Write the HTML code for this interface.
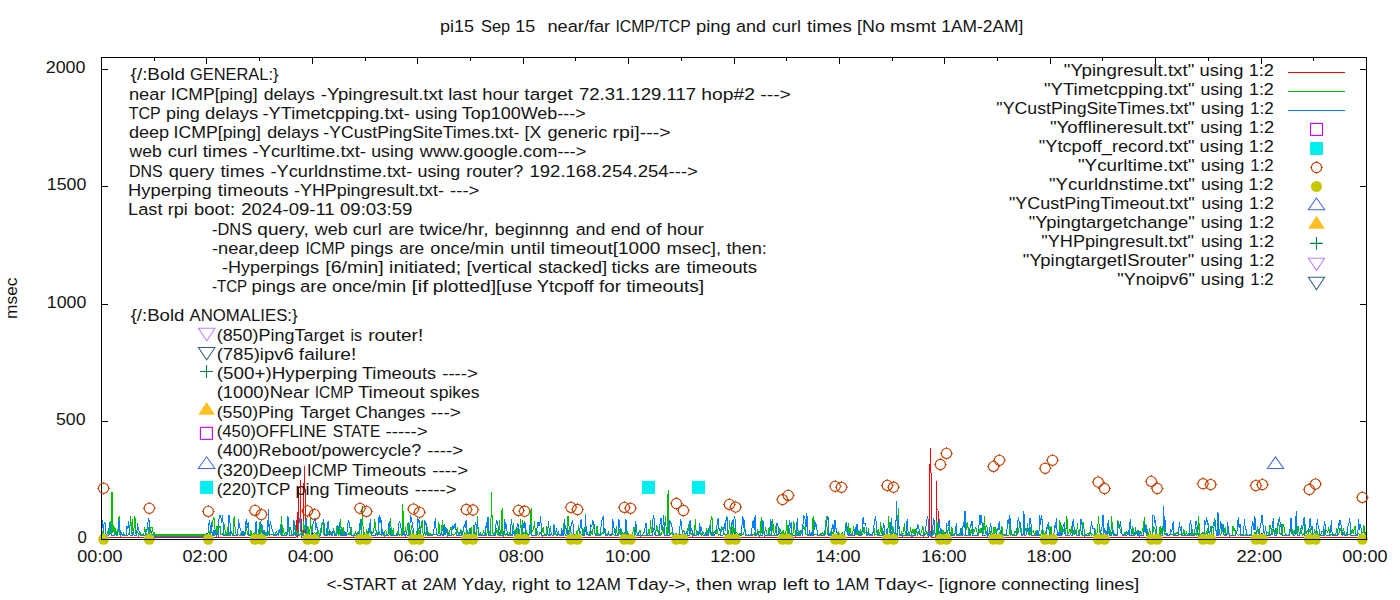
<!DOCTYPE html>
<html><head><meta charset="utf-8"><style>
html,body{margin:0;padding:0;background:#fff;width:1400px;height:600px;overflow:hidden}
svg{display:block}
text{font-family:"Liberation Sans",sans-serif;font-size:16.7px;fill:#141414}
</style></head><body>
<svg width="1400" height="600" viewBox="0 0 1400 600">
<rect width="1400" height="600" fill="#fff"/>
<g><path d="M101.0 539.5h7M1367.0 539.5h-7" stroke="#000" stroke-width="1"/>
<path d="M101.0 421.5h7M1367.0 421.5h-7" stroke="#000" stroke-width="1"/>
<path d="M101.0 304.5h7M1367.0 304.5h-7" stroke="#000" stroke-width="1"/>
<path d="M101.0 186.5h7M1367.0 186.5h-7" stroke="#000" stroke-width="1"/>
<path d="M101.0 69.5h7M1367.0 69.5h-7" stroke="#000" stroke-width="1"/>
<path d="M101.5 540.0v-7.0M101.5 57.0v7.0" stroke="#000" stroke-width="1"/>
<path d="M154.5 540.0v-4.0M154.5 57.0v4.0" stroke="#000" stroke-width="1"/>
<path d="M206.5 540.0v-7.0M206.5 57.0v7.0" stroke="#000" stroke-width="1"/>
<path d="M259.5 540.0v-4.0M259.5 57.0v4.0" stroke="#000" stroke-width="1"/>
<path d="M312.5 540.0v-7.0M312.5 57.0v7.0" stroke="#000" stroke-width="1"/>
<path d="M365.5 540.0v-4.0M365.5 57.0v4.0" stroke="#000" stroke-width="1"/>
<path d="M417.5 540.0v-7.0M417.5 57.0v7.0" stroke="#000" stroke-width="1"/>
<path d="M470.5 540.0v-4.0M470.5 57.0v4.0" stroke="#000" stroke-width="1"/>
<path d="M523.5 540.0v-7.0M523.5 57.0v7.0" stroke="#000" stroke-width="1"/>
<path d="M575.5 540.0v-4.0M575.5 57.0v4.0" stroke="#000" stroke-width="1"/>
<path d="M628.5 540.0v-7.0M628.5 57.0v7.0" stroke="#000" stroke-width="1"/>
<path d="M681.5 540.0v-4.0M681.5 57.0v4.0" stroke="#000" stroke-width="1"/>
<path d="M734.5 540.0v-7.0M734.5 57.0v7.0" stroke="#000" stroke-width="1"/>
<path d="M786.5 540.0v-4.0M786.5 57.0v4.0" stroke="#000" stroke-width="1"/>
<path d="M839.5 540.0v-7.0M839.5 57.0v7.0" stroke="#000" stroke-width="1"/>
<path d="M892.5 540.0v-4.0M892.5 57.0v4.0" stroke="#000" stroke-width="1"/>
<path d="M944.5 540.0v-7.0M944.5 57.0v7.0" stroke="#000" stroke-width="1"/>
<path d="M997.5 540.0v-4.0M997.5 57.0v4.0" stroke="#000" stroke-width="1"/>
<path d="M1050.5 540.0v-7.0M1050.5 57.0v7.0" stroke="#000" stroke-width="1"/>
<path d="M1102.5 540.0v-4.0M1102.5 57.0v4.0" stroke="#000" stroke-width="1"/>
<path d="M1155.5 540.0v-7.0M1155.5 57.0v7.0" stroke="#000" stroke-width="1"/>
<path d="M1208.5 540.0v-4.0M1208.5 57.0v4.0" stroke="#000" stroke-width="1"/>
<path d="M1261.5 540.0v-7.0M1261.5 57.0v7.0" stroke="#000" stroke-width="1"/>
<path d="M1313.5 540.0v-4.0M1313.5 57.0v4.0" stroke="#000" stroke-width="1"/>
<path d="M1366.5 540.0v-7.0M1366.5 57.0v7.0" stroke="#000" stroke-width="1"/></g>
<g><polyline points="101.5,537.5 296.0,537.5 297.5,512.0 298.0,537.5 298.7,487.0 300.0,487.0 300.6,480.0 301.2,537.5 303.0,537.5 303.6,500.0 304.4,466.0 305.3,500.0 306.0,537.5 929.0,537.5 929.3,492.5 930.4,448.0 931.5,492.5 932.0,537.5 936.0,537.5 936.4,481.0 937.0,509.0 938.0,509.0 938.4,537.5 1366.5,537.5" fill="none" stroke="#FF0000" stroke-width="1.00" shape-rendering="crispEdges"/>
<polyline points="101.5,534.3 102.4,534.6 103.3,529.6 104.1,535.0 105.0,535.2 105.9,535.2 106.8,534.2 107.6,532.0 108.5,534.6 109.4,534.8 110.3,521.5 111.2,534.8 112.0,491.8 112.9,532.6 113.8,525.2 114.7,535.0 115.6,527.9 116.4,534.6 117.3,535.3 118.2,527.7 119.1,516.0 119.9,535.2 120.8,530.5 121.7,535.0 122.6,535.2 123.5,533.4 124.3,535.0 125.2,535.2 126.1,535.3 127.0,535.0 127.9,535.2 128.7,533.3 129.6,532.2 130.5,516.0 131.4,533.5 132.2,519.2 133.1,532.7 134.0,528.4 134.9,516.0 135.8,533.2 136.6,535.2 137.5,531.1 138.4,535.2 139.3,532.2 140.2,532.8 141.0,534.8 141.9,535.2 142.8,534.9 143.7,535.0 144.5,528.5 145.4,530.2 146.3,535.0 147.2,534.2 148.1,534.9 148.9,526.6 149.8,534.8 150.7,527.6 151.6,527.1 152.5,527.8 153.3,534.9 154.2,532.0 154.2,535.0 206.9,535.0 206.9,535.1 207.8,534.9 208.7,534.9 209.6,532.5 210.4,535.3 211.3,527.6 212.2,526.8 213.1,519.2 213.9,517.3 214.8,526.7 215.7,535.2 216.6,526.5 217.5,535.3 218.3,520.2 219.2,527.9 220.1,527.0 221.0,534.7 221.9,535.0 222.7,534.9 223.6,528.8 224.5,523.6 225.4,534.8 226.2,533.0 227.1,534.8 228.0,527.1 228.9,532.2 229.8,535.1 230.6,534.5 231.5,532.8 232.4,533.1 233.3,535.1 234.1,516.0 235.0,526.7 235.9,534.0 236.8,535.0 237.7,534.7 238.5,534.4 239.4,535.1 240.3,535.1 241.2,532.4 242.1,534.8 242.9,534.8 243.8,535.2 244.7,535.1 245.6,534.5 246.4,526.2 247.3,533.2 248.2,535.2 249.1,535.1 250.0,534.6 250.8,529.8 251.7,534.9 252.6,534.9 253.5,535.2 254.4,532.1 255.2,532.0 256.1,535.2 257.0,535.3 257.9,534.8 258.7,532.5 259.6,521.8 260.5,534.5 261.4,532.2 262.3,524.6 263.1,530.4 264.0,535.3 264.9,532.1 265.8,535.1 266.7,535.2 267.5,526.2 268.4,534.7 269.3,535.0 270.2,534.2 271.0,534.7 271.9,534.3 272.8,534.7 273.7,535.0 274.6,534.4 275.4,535.2 276.3,530.8 277.2,533.8 278.1,533.0 279.0,531.8 279.8,528.9 280.7,535.0 281.6,516.0 282.5,534.9 283.3,528.3 284.2,534.0 285.1,534.1 286.0,531.8 286.9,535.1 287.7,534.0 288.6,527.0 289.5,530.5 290.4,528.3 291.2,530.4 292.1,535.1 293.0,534.9 293.9,534.4 294.8,534.7 295.6,525.4 296.5,534.5 297.4,534.9 298.3,532.8 299.2,534.9 300.0,535.2 300.9,532.9 301.8,534.8 302.7,535.2 303.5,521.2 304.4,527.2 305.3,535.0 306.2,534.9 307.1,535.2 307.9,526.0 308.8,535.1 309.7,535.1 310.6,518.0 311.5,534.4 312.3,523.9 313.2,534.8 314.1,533.1 315.0,532.6 315.8,534.7 316.7,535.2 317.6,527.2 318.5,532.8 319.4,535.1 320.2,532.2 321.1,527.4 322.0,523.4 322.9,522.4 323.8,534.3 324.6,534.0 325.5,535.2 326.4,535.1 327.3,524.1 328.1,535.2 329.0,531.6 329.9,535.1 330.8,532.9 331.7,533.1 332.5,534.2 333.4,527.8 334.3,532.8 335.2,533.2 336.1,534.9 336.9,527.2 337.8,528.5 338.7,535.1 339.6,534.9 340.4,518.6 341.3,531.6 342.2,535.0 343.1,526.9 344.0,534.8 344.8,534.8 345.7,535.0 346.6,535.0 347.5,534.4 348.4,534.8 349.2,532.2 350.1,535.1 351.0,527.2 351.9,534.8 352.7,535.3 353.6,534.9 354.5,535.0 355.4,532.2 356.3,534.9 357.1,535.1 358.0,535.2 358.9,535.1 359.8,523.1 360.6,525.8 361.5,535.1 362.4,505.7 363.3,535.2 364.2,532.3 365.0,535.2 365.9,534.8 366.8,530.2 367.7,532.6 368.6,535.2 369.4,531.7 370.3,531.2 371.2,534.7 372.1,532.7 372.9,533.8 373.8,530.7 374.7,518.6 375.6,528.0 376.5,535.1 377.3,532.8 378.2,533.4 379.1,531.8 380.0,535.2 380.9,534.5 381.7,534.5 382.6,534.6 383.5,533.0 384.4,535.2 385.2,530.0 386.1,530.9 387.0,534.9 387.9,535.1 388.8,535.0 389.6,534.5 390.5,518.1 391.4,534.1 392.3,534.7 393.2,528.4 394.0,535.2 394.9,535.1 395.8,535.1 396.7,534.8 397.5,531.6 398.4,533.0 399.3,535.2 400.2,534.7 401.1,535.2 401.9,535.3 402.8,503.6 403.7,532.2 404.6,535.2 405.5,526.8 406.3,534.4 407.2,528.3 408.1,522.4 409.0,535.0 409.8,535.1 410.7,533.1 411.6,525.2 412.5,535.2 413.4,535.0 414.2,535.0 415.1,535.1 416.0,535.1 416.9,531.8 417.8,525.5 418.6,535.2 419.5,533.4 420.4,526.7 421.3,527.3 422.1,519.9 423.0,533.0 423.9,534.8 424.8,531.6 425.7,535.1 426.5,535.0 427.4,527.5 428.3,534.1 429.2,535.3 430.0,532.9 430.9,535.1 431.8,534.8 432.7,534.9 433.6,534.2 434.4,534.1 435.3,534.8 436.2,534.9 437.1,535.0 438.0,533.8 438.8,521.9 439.7,533.1 440.6,534.5 441.5,534.5 442.3,519.8 443.2,534.2 444.1,534.2 445.0,535.1 445.9,534.3 446.7,527.8 447.6,530.2 448.5,534.8 449.4,535.2 450.3,527.6 451.1,527.4 452.0,534.8 452.9,534.2 453.8,535.2 454.6,534.9 455.5,532.9 456.4,534.7 457.3,527.0 458.2,534.9 459.0,532.2 459.9,534.9 460.8,528.7 461.7,535.2 462.6,534.7 463.4,526.8 464.3,534.3 465.2,533.1 466.1,534.6 466.9,534.4 467.8,531.1 468.7,534.0 469.6,533.8 470.5,528.2 471.3,527.6 472.2,535.1 473.1,534.8 474.0,525.5 474.9,535.2 475.7,533.3 476.6,535.0 477.5,516.0 478.4,535.0 479.2,535.1 480.1,532.8 481.0,535.2 481.9,535.0 482.8,534.8 483.6,529.7 484.5,535.1 485.4,532.9 486.3,535.1 487.1,532.4 488.0,524.5 488.9,535.1 489.8,531.2 490.7,534.9 491.5,491.8 492.4,532.3 493.3,534.0 494.2,535.3 495.1,531.9 495.9,533.2 496.8,528.3 497.7,535.0 498.6,535.1 499.4,520.2 500.3,535.2 501.2,533.0 502.1,507.9 503.0,535.1 503.8,531.3 504.7,534.5 505.6,535.0 506.5,534.0 507.4,535.2 508.2,534.4 509.1,534.8 510.0,532.1 510.9,535.3 511.7,535.2 512.6,532.7 513.5,523.5 514.4,534.7 515.3,535.0 516.1,528.1 517.0,534.1 517.9,528.2 518.8,535.0 519.7,534.7 520.5,519.1 521.4,535.1 522.3,520.5 523.2,535.1 524.0,532.5 524.9,534.5 525.8,529.0 526.7,535.1 527.6,533.6 528.4,535.2 529.3,534.9 530.2,533.9 531.1,507.9 532.0,531.5 532.8,530.9 533.7,528.7 534.6,521.4 535.5,534.9 536.3,535.1 537.2,532.0 538.1,535.0 539.0,535.2 539.9,532.0 540.7,533.0 541.6,534.6 542.5,528.8 543.4,527.6 544.2,534.3 545.1,535.3 546.0,534.7 546.9,526.4 547.8,533.5 548.6,535.1 549.5,532.1 550.4,526.0 551.3,534.6 552.2,535.2 553.0,535.2 553.9,535.1 554.8,532.6 555.7,534.5 556.5,535.2 557.4,533.5 558.3,533.1 559.2,534.8 560.1,535.2 560.9,535.2 561.8,535.3 562.7,534.9 563.6,522.9 564.5,530.3 565.3,535.3 566.2,535.2 567.1,534.8 568.0,516.0 568.8,523.6 569.7,531.8 570.6,529.3 571.5,534.8 572.4,534.6 573.2,534.8 574.1,535.2 575.0,534.8 575.9,535.1 576.8,531.5 577.6,534.4 578.5,525.1 579.4,535.2 580.3,531.2 581.1,534.8 582.0,534.9 582.9,528.5 583.8,535.2 584.7,534.9 585.5,527.0 586.4,534.7 587.3,534.6 588.2,534.6 589.1,534.8 589.9,531.8 590.8,534.8 591.7,531.9 592.6,534.7 593.4,524.0 594.3,530.2 595.2,534.9 596.1,535.3 597.0,526.1 597.8,535.0 598.7,533.6 599.6,534.7 600.5,533.1 601.4,534.4 602.2,532.5 603.1,533.9 604.0,531.3 604.9,532.8 605.7,534.9 606.6,534.3 607.5,535.2 608.4,532.3 609.3,535.2 610.1,535.1 611.0,534.5 611.9,535.0 612.8,534.6 613.6,535.0 614.5,535.2 615.4,534.9 616.3,526.4 617.2,534.8 618.0,534.6 618.9,534.9 619.8,528.7 620.7,534.7 621.6,529.1 622.4,535.2 623.3,534.4 624.2,532.7 625.1,534.3 625.9,535.1 626.8,531.7 627.7,532.1 628.6,535.0 629.5,534.9 630.3,535.1 631.2,535.0 632.1,534.4 633.0,531.7 633.9,527.3 634.7,529.0 635.6,534.6 636.5,535.3 637.4,534.6 638.2,535.2 639.1,533.1 640.0,529.8 640.9,535.1 641.8,535.2 642.6,535.0 643.5,535.1 644.4,535.2 645.3,535.2 646.2,535.1 647.0,534.9 647.9,534.2 648.8,528.9 649.7,535.1 650.5,520.4 651.4,532.3 652.3,530.4 653.2,528.8 654.1,532.6 654.9,534.5 655.8,532.4 656.7,524.6 657.6,528.8 658.5,534.9 659.3,526.7 660.2,535.0 661.1,535.0 662.0,531.8 662.8,525.6 663.7,532.8 664.6,534.9 665.5,516.0 666.4,534.4 667.2,535.2 668.1,489.6 669.0,533.1 669.9,535.3 670.8,533.0 671.6,532.4 672.5,534.7 673.4,535.1 674.3,535.1 675.1,534.9 676.0,535.1 676.9,534.1 677.8,534.3 678.7,534.5 679.5,535.1 680.4,534.9 681.3,535.3 682.2,535.0 683.0,530.2 683.9,531.0 684.8,535.1 685.7,535.2 686.6,535.2 687.4,535.2 688.3,524.2 689.2,532.9 690.1,530.9 691.0,533.6 691.8,534.7 692.7,532.6 693.6,535.1 694.5,535.0 695.3,519.5 696.2,532.4 697.1,534.9 698.0,535.0 698.9,534.4 699.7,526.9 700.6,534.3 701.5,535.2 702.4,531.4 703.3,532.6 704.1,534.3 705.0,534.4 705.9,534.2 706.8,528.3 707.6,535.1 708.5,535.1 709.4,528.1 710.3,534.9 711.2,516.0 712.0,517.8 712.9,535.2 713.8,533.0 714.7,531.5 715.6,531.1 716.4,532.9 717.3,529.5 718.2,534.9 719.1,535.2 719.9,533.9 720.8,533.3 721.7,526.7 722.6,527.3 723.5,532.7 724.3,534.1 725.2,535.1 726.1,534.8 727.0,534.6 727.9,535.0 728.7,535.0 729.6,519.6 730.5,535.1 731.4,522.0 732.2,534.8 733.1,525.2 734.0,532.8 734.9,528.4 735.8,532.4 736.6,532.9 737.5,533.3 738.4,535.2 739.3,534.4 740.1,533.2 741.0,534.9 741.9,535.1 742.8,534.0 743.7,534.6 744.5,527.2 745.4,534.1 746.3,534.6 747.2,535.3 748.1,534.8 748.9,535.2 749.8,535.1 750.7,534.7 751.6,533.6 752.4,535.2 753.3,534.6 754.2,535.0 755.1,531.6 756.0,535.2 756.8,534.9 757.7,528.7 758.6,535.1 759.5,531.1 760.4,535.2 761.2,516.8 762.1,534.6 763.0,527.3 763.9,533.1 764.7,532.7 765.6,527.4 766.5,532.8 767.4,535.3 768.3,535.0 769.1,526.9 770.0,534.6 770.9,535.2 771.8,535.2 772.7,518.9 773.5,532.4 774.4,534.0 775.3,532.1 776.2,524.9 777.0,535.0 777.9,535.2 778.8,526.0 779.7,533.6 780.6,529.4 781.4,534.7 782.3,533.9 783.2,530.0 784.1,535.2 785.0,532.7 785.8,535.1 786.7,520.2 787.6,535.2 788.5,534.3 789.3,527.8 790.2,535.0 791.1,533.1 792.0,535.2 792.9,535.0 793.7,521.5 794.6,525.2 795.5,535.1 796.4,535.2 797.2,535.2 798.1,531.3 799.0,530.8 799.9,535.3 800.8,531.3 801.6,532.6 802.5,535.2 803.4,525.1 804.3,529.7 805.2,525.8 806.0,534.7 806.9,534.5 807.8,533.2 808.7,535.2 809.5,535.0 810.4,533.3 811.3,534.5 812.2,535.1 813.1,516.0 813.9,534.8 814.8,534.0 815.7,534.9 816.6,534.4 817.5,535.2 818.3,535.3 819.2,534.7 820.1,534.2 821.0,533.6 821.8,534.3 822.7,532.3 823.6,534.4 824.5,535.2 825.4,534.9 826.2,516.0 827.1,528.0 828.0,534.8 828.9,532.7 829.8,534.9 830.6,533.1 831.5,528.4 832.4,534.2 833.3,531.4 834.1,535.2 835.0,533.7 835.9,535.2 836.8,535.1 837.7,535.2 838.5,531.1 839.4,535.0 840.3,534.1 841.2,534.6 842.1,532.8 842.9,534.9 843.8,535.0 844.7,535.2 845.6,524.0 846.4,525.5 847.3,535.1 848.2,523.4 849.1,535.0 850.0,527.6 850.8,532.3 851.7,535.1 852.6,534.7 853.5,526.3 854.4,534.9 855.2,531.3 856.1,535.2 857.0,525.6 857.9,534.7 858.7,535.2 859.6,533.1 860.5,528.8 861.4,535.2 862.3,534.5 863.1,533.2 864.0,527.1 864.9,533.3 865.8,532.6 866.6,535.1 867.5,533.2 868.4,530.4 869.3,534.8 870.2,535.2 871.0,534.5 871.9,535.1 872.8,534.1 873.7,524.8 874.6,535.2 875.4,534.7 876.3,535.0 877.2,534.7 878.1,529.2 878.9,534.7 879.8,535.0 880.7,521.8 881.6,533.0 882.5,532.6 883.3,535.0 884.2,530.5 885.1,534.9 886.0,534.5 886.9,535.0 887.7,534.4 888.6,516.0 889.5,529.6 890.4,534.7 891.2,534.9 892.1,530.5 893.0,526.6 893.9,532.1 894.8,535.2 895.6,532.7 896.5,535.2 897.4,532.1 898.3,507.9 899.2,535.2 900.0,534.7 900.9,535.2 901.8,531.8 902.7,535.0 903.5,532.5 904.4,523.3 905.3,534.3 906.2,532.9 907.1,535.2 907.9,533.1 908.8,534.5 909.7,534.8 910.6,527.4 911.5,535.2 912.3,531.5 913.2,528.8 914.1,534.5 915.0,529.3 915.8,533.2 916.7,530.1 917.6,534.7 918.5,532.1 919.4,534.6 920.2,534.9 921.1,532.8 922.0,530.3 922.9,526.1 923.8,534.9 924.6,533.4 925.5,534.0 926.4,532.4 927.3,535.2 928.1,532.1 929.0,535.2 929.9,533.6 930.8,534.1 931.7,535.0 932.5,535.2 933.4,534.8 934.3,528.4 935.2,535.2 936.0,535.3 936.9,520.8 937.8,532.6 938.7,535.2 939.6,532.1 940.4,534.5 941.3,534.5 942.2,534.9 943.1,529.9 944.0,535.2 944.8,532.5 945.7,533.2 946.6,531.2 947.5,534.4 948.3,527.3 949.2,532.2 950.1,532.8 951.0,535.0 951.9,527.3 952.7,534.7 953.6,535.1 954.5,534.0 955.4,532.0 956.3,535.2 957.1,535.2 958.0,534.8 958.9,534.9 959.8,533.2 960.6,534.9 961.5,527.9 962.4,535.2 963.3,534.9 964.2,535.2 965.0,535.2 965.9,522.6 966.8,530.2 967.7,521.9 968.6,535.2 969.4,534.9 970.3,535.2 971.2,528.8 972.1,533.8 972.9,528.3 973.8,532.5 974.7,529.6 975.6,528.0 976.5,528.9 977.3,534.3 978.2,535.1 979.1,528.6 980.0,533.3 980.9,527.6 981.7,531.7 982.6,534.5 983.5,533.2 984.4,516.0 985.2,533.5 986.1,525.5 987.0,526.6 987.9,534.2 988.8,535.1 989.6,528.4 990.5,535.0 991.4,535.0 992.3,533.3 993.1,535.0 994.0,527.0 994.9,533.7 995.8,527.4 996.7,535.2 997.5,535.1 998.4,534.9 999.3,535.1 1000.2,531.4 1001.1,534.8 1001.9,526.4 1002.8,535.0 1003.7,534.8 1004.6,534.8 1005.4,534.9 1006.3,534.6 1007.2,535.1 1008.1,535.0 1009.0,535.1 1009.8,516.1 1010.7,535.2 1011.6,534.5 1012.5,534.7 1013.4,535.0 1014.2,534.4 1015.1,531.0 1016.0,533.3 1016.9,527.8 1017.7,535.2 1018.6,528.2 1019.5,527.4 1020.4,522.0 1021.3,530.8 1022.1,534.9 1023.0,534.8 1023.9,530.8 1024.8,530.3 1025.7,528.4 1026.5,535.2 1027.4,523.1 1028.3,533.8 1029.2,535.0 1030.0,526.8 1030.9,534.3 1031.8,532.6 1032.7,531.2 1033.6,530.5 1034.4,534.8 1035.3,534.8 1036.2,530.1 1037.1,531.8 1038.0,530.5 1038.8,535.3 1039.7,534.9 1040.6,535.1 1041.5,532.1 1042.3,535.0 1043.2,529.9 1044.1,533.3 1045.0,535.3 1045.9,531.9 1046.7,528.1 1047.6,528.6 1048.5,523.9 1049.4,527.0 1050.2,535.1 1051.1,525.9 1052.0,535.1 1052.9,534.4 1053.8,535.2 1054.6,534.5 1055.5,535.2 1056.4,535.0 1057.3,534.8 1058.2,534.1 1059.0,533.9 1059.9,520.1 1060.8,535.2 1061.7,525.2 1062.5,534.5 1063.4,529.6 1064.3,528.7 1065.2,533.5 1066.1,527.9 1066.9,516.3 1067.8,534.8 1068.7,532.8 1069.6,529.4 1070.5,535.1 1071.3,526.0 1072.2,535.1 1073.1,530.2 1074.0,534.7 1074.8,530.2 1075.7,533.2 1076.6,534.0 1077.5,522.6 1078.4,534.7 1079.2,534.6 1080.1,528.6 1081.0,530.8 1081.9,535.2 1082.8,521.7 1083.6,524.2 1084.5,534.8 1085.4,534.8 1086.3,534.9 1087.1,534.0 1088.0,532.8 1088.9,534.8 1089.8,532.6 1090.7,531.2 1091.5,535.2 1092.4,534.7 1093.3,535.0 1094.2,535.1 1095.1,528.7 1095.9,535.1 1096.8,534.6 1097.7,528.1 1098.6,516.0 1099.4,532.3 1100.3,530.7 1101.2,533.3 1102.1,534.6 1103.0,534.5 1103.8,535.3 1104.7,535.1 1105.6,535.1 1106.5,534.5 1107.4,535.0 1108.2,533.7 1109.1,526.7 1110.0,534.9 1110.9,532.1 1111.7,516.0 1112.6,532.8 1113.5,531.4 1114.4,534.9 1115.3,535.0 1116.1,534.5 1117.0,534.4 1117.9,520.4 1118.8,528.2 1119.6,525.8 1120.5,532.4 1121.4,532.5 1122.3,534.5 1123.2,534.4 1124.0,535.3 1124.9,531.7 1125.8,535.1 1126.7,530.9 1127.6,534.1 1128.4,532.9 1129.3,534.8 1130.2,535.0 1131.1,535.1 1131.9,535.1 1132.8,526.5 1133.7,534.8 1134.6,534.6 1135.5,534.7 1136.3,531.3 1137.2,534.6 1138.1,529.7 1139.0,535.0 1139.9,534.8 1140.7,530.7 1141.6,535.2 1142.5,527.9 1143.4,535.3 1144.2,517.5 1145.1,532.9 1146.0,524.9 1146.9,535.2 1147.8,534.3 1148.6,534.5 1149.5,529.4 1150.4,532.0 1151.3,534.9 1152.2,534.5 1153.0,532.2 1153.9,526.8 1154.8,527.4 1155.7,534.9 1156.5,535.1 1157.4,535.2 1158.3,535.1 1159.2,534.8 1160.1,526.2 1160.9,535.1 1161.8,527.7 1162.7,535.1 1163.6,521.8 1164.5,534.5 1165.3,534.6 1166.2,533.1 1167.1,534.8 1168.0,535.2 1168.8,535.2 1169.7,535.1 1170.6,534.0 1171.5,534.5 1172.4,534.1 1173.2,535.3 1174.1,534.1 1175.0,532.9 1175.9,534.2 1176.8,532.9 1177.6,533.0 1178.5,535.1 1179.4,534.7 1180.3,534.8 1181.1,534.2 1182.0,533.3 1182.9,534.2 1183.8,528.9 1184.7,534.7 1185.5,535.1 1186.4,530.9 1187.3,535.0 1188.2,535.3 1189.0,533.2 1189.9,535.1 1190.8,535.0 1191.7,525.4 1192.6,534.8 1193.4,533.4 1194.3,535.0 1195.2,533.1 1196.1,535.1 1197.0,526.7 1197.8,534.8 1198.7,516.0 1199.6,534.8 1200.5,535.0 1201.3,535.2 1202.2,532.3 1203.1,535.1 1204.0,532.3 1204.9,533.2 1205.7,535.1 1206.6,530.9 1207.5,535.2 1208.4,522.9 1209.3,534.5 1210.1,532.0 1211.0,526.3 1211.9,535.2 1212.8,534.5 1213.6,535.0 1214.5,518.1 1215.4,523.1 1216.3,534.0 1217.2,534.5 1218.0,530.8 1218.9,535.2 1219.8,534.3 1220.7,535.2 1221.6,532.7 1222.4,524.3 1223.3,534.8 1224.2,532.7 1225.1,527.0 1225.9,534.7 1226.8,534.7 1227.7,534.3 1228.6,531.8 1229.5,535.1 1230.3,535.1 1231.2,535.2 1232.1,534.8 1233.0,526.1 1233.9,530.8 1234.7,528.2 1235.6,534.9 1236.5,532.3 1237.4,534.8 1238.2,535.2 1239.1,534.8 1240.0,535.0 1240.9,535.3 1241.8,534.1 1242.6,535.2 1243.5,535.0 1244.4,535.1 1245.3,535.1 1246.1,534.6 1247.0,534.8 1247.9,534.8 1248.8,535.2 1249.7,534.7 1250.5,534.4 1251.4,535.2 1252.3,535.1 1253.2,535.1 1254.1,535.2 1254.9,532.0 1255.8,534.4 1256.7,535.2 1257.6,525.8 1258.4,532.4 1259.3,535.2 1260.2,534.3 1261.1,535.1 1262.0,535.1 1262.8,533.3 1263.7,532.0 1264.6,535.1 1265.5,535.2 1266.4,534.4 1267.2,532.7 1268.1,532.3 1269.0,535.2 1269.9,525.6 1270.7,525.8 1271.6,534.7 1272.5,534.7 1273.4,524.7 1274.3,534.9 1275.1,533.8 1276.0,528.0 1276.9,535.2 1277.8,527.7 1278.7,519.4 1279.5,533.1 1280.4,534.3 1281.3,532.4 1282.2,535.2 1283.0,524.6 1283.9,526.1 1284.8,532.2 1285.7,534.1 1286.6,534.4 1287.4,535.2 1288.3,535.1 1289.2,534.6 1290.1,532.0 1291.0,527.0 1291.8,534.0 1292.7,529.0 1293.6,534.9 1294.5,531.7 1295.3,534.3 1296.2,530.8 1297.1,534.3 1298.0,526.4 1298.9,532.1 1299.7,534.4 1300.6,528.0 1301.5,533.2 1302.4,534.9 1303.2,533.5 1304.1,534.5 1305.0,524.3 1305.9,534.1 1306.8,531.9 1307.6,530.7 1308.5,530.7 1309.4,531.4 1310.3,527.7 1311.2,534.8 1312.0,534.7 1312.9,534.9 1313.8,534.9 1314.7,528.7 1315.5,534.7 1316.4,534.5 1317.3,531.9 1318.2,535.2 1319.1,534.6 1319.9,535.3 1320.8,535.2 1321.7,531.9 1322.6,531.7 1323.5,533.1 1324.3,534.8 1325.2,527.5 1326.1,530.9 1327.0,531.1 1327.8,532.6 1328.7,526.8 1329.6,532.5 1330.5,535.2 1331.4,534.3 1332.2,534.6 1333.1,534.8 1334.0,534.6 1334.9,534.5 1335.8,534.3 1336.6,528.4 1337.5,535.2 1338.4,534.8 1339.3,532.1 1340.1,527.9 1341.0,530.9 1341.9,534.8 1342.8,530.9 1343.7,528.7 1344.5,535.0 1345.4,534.8 1346.3,534.9 1347.2,530.9 1348.1,534.8 1348.9,534.8 1349.8,534.7 1350.7,534.9 1351.6,532.1 1352.4,528.9 1353.3,534.4 1354.2,529.0 1355.1,525.8 1356.0,535.3 1356.8,534.5 1357.7,533.8 1358.6,533.6 1359.5,535.2 1360.4,534.9 1361.2,534.9 1362.1,532.4 1363.0,533.1 1363.9,524.8 1364.7,532.9 1365.6,535.1 1366.5,529.4" fill="none" stroke="#00C000" stroke-width="1.00" shape-rendering="crispEdges"/>
<path d="M154.2 535h52.7" stroke="#00C000" stroke-width="2"/>
<polyline points="101.5,535.9 102.4,520.4 103.3,531.8 104.1,522.6 105.0,523.0 105.9,535.2 106.8,534.6 107.6,535.5 108.5,535.9 109.4,522.2 110.3,525.2 111.2,535.9 112.0,535.8 112.9,535.7 113.8,536.0 114.7,535.6 115.6,533.5 116.4,535.8 117.3,535.8 118.2,530.5 119.1,519.9 119.9,529.4 120.8,535.5 121.7,533.6 122.6,535.8 123.5,535.8 124.3,535.5 125.2,535.9 126.1,535.9 127.0,526.3 127.9,528.5 128.7,521.2 129.6,534.7 130.5,535.5 131.4,535.8 132.2,535.4 133.1,531.2 134.0,535.3 134.9,535.3 135.8,535.9 136.6,535.5 137.5,522.8 138.4,529.4 139.3,532.0 140.2,535.9 141.0,535.7 141.9,535.8 142.8,535.9 143.7,535.8 144.5,535.8 145.4,535.8 146.3,529.9 147.2,529.5 148.1,521.0 148.9,517.7 149.8,533.4 150.7,535.9 151.6,532.9 152.5,535.9 153.3,535.3 154.2,535.9 154.2,536.5 206.9,536.5 206.9,535.0 207.8,535.8 208.7,524.5 209.6,519.7 210.4,529.8 211.3,522.3 212.2,535.2 213.1,535.4 213.9,529.9 214.8,535.5 215.7,529.9 216.6,535.8 217.5,534.7 218.3,535.7 219.2,515.0 220.1,515.0 221.0,518.3 221.9,523.3 222.7,515.0 223.6,535.5 224.5,535.0 225.4,535.7 226.2,535.5 227.1,535.6 228.0,535.9 228.9,515.0 229.8,518.0 230.6,535.5 231.5,530.9 232.4,535.7 233.3,535.7 234.1,536.0 235.0,535.7 235.9,535.7 236.8,535.6 237.7,535.8 238.5,518.7 239.4,525.7 240.3,528.6 241.2,531.5 242.1,535.9 242.9,530.9 243.8,535.7 244.7,535.9 245.6,524.2 246.4,518.7 247.3,527.5 248.2,522.0 249.1,535.9 250.0,535.5 250.8,535.6 251.7,535.7 252.6,535.7 253.5,535.0 254.4,535.9 255.2,530.6 256.1,521.4 257.0,535.8 257.9,534.9 258.7,535.9 259.6,535.6 260.5,521.0 261.4,525.7 262.3,527.1 263.1,535.5 264.0,530.2 264.9,536.0 265.8,535.2 266.7,535.9 267.5,535.6 268.4,508.9 269.3,535.8 270.2,520.7 271.0,524.9 271.9,529.1 272.8,530.9 273.7,535.6 274.6,535.8 275.4,535.6 276.3,535.8 277.2,533.6 278.1,535.4 279.0,529.6 279.8,533.3 280.7,524.1 281.6,535.9 282.5,535.9 283.3,535.5 284.2,535.9 285.1,535.8 286.0,535.9 286.9,535.5 287.7,516.0 288.6,519.4 289.5,536.0 290.4,535.9 291.2,535.9 292.1,535.9 293.0,535.9 293.9,520.1 294.8,528.7 295.6,535.1 296.5,535.9 297.4,535.8 298.3,530.3 299.2,520.8 300.0,517.9 300.9,531.9 301.8,535.7 302.7,535.9 303.5,535.9 304.4,531.6 305.3,528.8 306.2,517.7 307.1,535.9 307.9,536.0 308.8,535.7 309.7,535.8 310.6,535.5 311.5,535.5 312.3,529.5 313.2,522.9 314.1,520.6 315.0,518.0 315.8,529.7 316.7,522.9 317.6,535.7 318.5,535.7 319.4,535.8 320.2,535.6 321.1,532.3 322.0,524.7 322.9,524.3 323.8,519.1 324.6,535.9 325.5,535.7 326.4,535.7 327.3,535.9 328.1,520.6 329.0,529.3 329.9,535.2 330.8,531.3 331.7,535.8 332.5,535.9 333.4,529.0 334.3,535.4 335.2,536.0 336.1,535.9 336.9,535.3 337.8,524.7 338.7,530.0 339.6,521.9 340.4,536.0 341.3,535.6 342.2,533.0 343.1,535.7 344.0,535.8 344.8,530.8 345.7,535.6 346.6,535.7 347.5,526.8 348.4,520.9 349.2,522.9 350.1,529.0 351.0,531.3 351.9,535.5 352.7,535.4 353.6,536.0 354.5,535.5 355.4,535.9 356.3,535.9 357.1,532.2 358.0,535.2 358.9,532.2 359.8,524.7 360.6,518.8 361.5,535.7 362.4,535.8 363.3,535.9 364.2,535.6 365.0,535.6 365.9,534.9 366.8,535.8 367.7,535.9 368.6,528.5 369.4,530.8 370.3,519.4 371.2,533.6 372.1,535.7 372.9,535.7 373.8,535.8 374.7,535.7 375.6,535.8 376.5,530.5 377.3,535.6 378.2,535.0 379.1,515.0 380.0,523.4 380.9,516.8 381.7,535.8 382.6,529.3 383.5,535.0 384.4,535.8 385.2,535.5 386.1,534.8 387.0,536.0 387.9,535.8 388.8,524.2 389.6,521.6 390.5,535.9 391.4,535.8 392.3,535.7 393.2,535.7 394.0,535.5 394.9,535.9 395.8,535.8 396.7,535.9 397.5,535.8 398.4,528.5 399.3,520.7 400.2,523.4 401.1,528.4 401.9,530.5 402.8,536.0 403.7,533.1 404.6,535.8 405.5,536.0 406.3,532.6 407.2,535.8 408.1,535.7 409.0,535.7 409.8,524.8 410.7,515.5 411.6,518.9 412.5,524.7 413.4,530.9 414.2,536.0 415.1,535.8 416.0,536.0 416.9,535.9 417.8,517.6 418.6,522.9 419.5,519.9 420.4,536.0 421.3,535.5 422.1,535.9 423.0,535.4 423.9,535.9 424.8,520.3 425.7,524.2 426.5,523.7 427.4,535.7 428.3,535.2 429.2,535.5 430.0,535.8 430.9,535.8 431.8,535.9 432.7,535.3 433.6,531.8 434.4,526.2 435.3,517.9 436.2,530.2 437.1,535.8 438.0,535.8 438.8,535.8 439.7,535.8 440.6,535.6 441.5,532.4 442.3,535.7 443.2,535.8 444.1,524.1 445.0,534.0 445.9,527.9 446.7,528.5 447.6,536.0 448.5,535.5 449.4,536.0 450.3,535.9 451.1,535.9 452.0,529.8 452.9,525.8 453.8,528.7 454.6,525.5 455.5,522.7 456.4,535.7 457.3,535.8 458.2,535.3 459.0,533.2 459.9,535.8 460.8,536.0 461.7,531.4 462.6,535.4 463.4,529.4 464.3,523.9 465.2,528.3 466.1,520.1 466.9,535.8 467.8,535.9 468.7,535.0 469.6,527.6 470.5,536.0 471.3,535.2 472.2,535.5 473.1,535.9 474.0,535.9 474.9,525.3 475.7,523.1 476.6,527.0 477.5,521.1 478.4,535.7 479.2,535.8 480.1,536.0 481.0,535.8 481.9,534.5 482.8,535.9 483.6,535.8 484.5,535.7 485.4,535.7 486.3,522.3 487.1,529.2 488.0,516.9 488.9,535.8 489.8,535.7 490.7,535.9 491.5,535.9 492.4,535.9 493.3,535.7 494.2,535.6 495.1,535.8 495.9,524.3 496.8,520.2 497.7,525.2 498.6,528.2 499.4,535.3 500.3,535.8 501.2,536.0 502.1,535.9 503.0,536.0 503.8,536.0 504.7,518.9 505.6,528.6 506.5,524.5 507.4,535.8 508.2,535.9 509.1,535.9 510.0,535.8 510.9,525.1 511.7,518.7 512.6,535.9 513.5,531.5 514.4,535.6 515.3,535.9 516.1,531.1 517.0,526.8 517.9,523.2 518.8,533.0 519.7,535.0 520.5,535.8 521.4,535.6 522.3,535.4 523.2,523.1 524.0,528.1 524.9,520.6 525.8,535.9 526.7,535.8 527.6,535.5 528.4,535.9 529.3,533.5 530.2,523.4 531.1,527.8 532.0,535.5 532.8,535.9 533.7,535.8 534.6,535.5 535.5,535.9 536.3,535.6 537.2,526.5 538.1,521.7 539.0,525.6 539.9,522.6 540.7,516.3 541.6,535.8 542.5,536.0 543.4,535.5 544.2,536.0 545.1,535.9 546.0,535.8 546.9,535.5 547.8,531.2 548.6,521.0 549.5,535.8 550.4,535.4 551.3,533.0 552.2,535.6 553.0,535.2 553.9,524.0 554.8,531.7 555.7,533.4 556.5,528.3 557.4,535.5 558.3,532.3 559.2,535.6 560.1,536.0 560.9,535.4 561.8,528.5 562.7,535.5 563.6,535.9 564.5,519.4 565.3,528.3 566.2,528.2 567.1,535.0 568.0,529.8 568.8,535.7 569.7,535.6 570.6,527.4 571.5,523.9 572.4,521.5 573.2,524.3 574.1,535.2 575.0,535.2 575.9,535.9 576.8,535.6 577.6,535.4 578.5,535.3 579.4,536.0 580.3,523.8 581.1,519.5 582.0,529.4 582.9,535.4 583.8,535.8 584.7,535.9 585.5,514.3 586.4,534.7 587.3,533.2 588.2,535.7 589.1,535.9 589.9,534.7 590.8,524.4 591.7,527.3 592.6,520.4 593.4,522.5 594.3,524.5 595.2,535.3 596.1,535.1 597.0,535.8 597.8,535.8 598.7,534.7 599.6,535.8 600.5,535.7 601.4,520.6 602.2,519.9 603.1,516.3 604.0,530.7 604.9,527.8 605.7,535.8 606.6,535.7 607.5,535.9 608.4,532.9 609.3,535.8 610.1,535.7 611.0,535.8 611.9,535.6 612.8,519.4 613.6,526.1 614.5,530.1 615.4,535.6 616.3,535.7 617.2,536.0 618.0,535.9 618.9,519.5 619.8,526.8 620.7,531.7 621.6,535.7 622.4,535.6 623.3,535.3 624.2,535.7 625.1,535.8 625.9,518.8 626.8,530.2 627.7,535.3 628.6,535.7 629.5,536.0 630.3,535.7 631.2,535.9 632.1,535.6 633.0,535.5 633.9,535.7 634.7,535.9 635.6,521.1 636.5,528.3 637.4,535.9 638.2,532.3 639.1,535.8 640.0,536.0 640.9,536.0 641.8,535.8 642.6,535.2 643.5,532.3 644.4,532.4 645.3,526.1 646.2,522.6 647.0,535.8 647.9,535.7 648.8,535.6 649.7,535.6 650.5,535.3 651.4,535.7 652.3,535.8 653.2,515.0 654.1,518.3 654.9,528.9 655.8,535.8 656.7,535.9 657.6,535.8 658.5,535.8 659.3,535.5 660.2,520.5 661.1,517.9 662.0,530.1 662.8,528.3 663.7,515.5 664.6,535.6 665.5,535.3 666.4,535.9 667.2,535.9 668.1,535.6 669.0,535.9 669.9,520.5 670.8,522.9 671.6,525.3 672.5,529.9 673.4,535.7 674.3,536.0 675.1,535.8 676.0,532.7 676.9,536.0 677.8,535.9 678.7,535.8 679.5,535.4 680.4,519.3 681.3,521.4 682.2,532.0 683.0,536.0 683.9,535.7 684.8,532.6 685.7,535.8 686.6,530.7 687.4,535.1 688.3,535.3 689.2,535.7 690.1,519.9 691.0,531.1 691.8,527.9 692.7,536.0 693.6,535.7 694.5,535.7 695.3,535.9 696.2,535.9 697.1,534.6 698.0,531.5 698.9,536.0 699.7,523.3 700.6,531.7 701.5,526.8 702.4,533.5 703.3,535.8 704.1,535.8 705.0,535.9 705.9,531.9 706.8,535.9 707.6,535.9 708.5,532.9 709.4,524.7 710.3,527.1 711.2,533.2 712.0,535.8 712.9,533.5 713.8,535.2 714.7,535.9 715.6,531.2 716.4,528.3 717.3,523.2 718.2,518.2 719.1,530.6 719.9,528.3 720.8,535.8 721.7,535.9 722.6,535.9 723.5,533.6 724.3,522.8 725.2,531.0 726.1,519.3 727.0,516.2 727.9,535.5 728.7,535.4 729.6,535.9 730.5,536.0 731.4,536.0 732.2,519.7 733.1,526.0 734.0,518.8 734.9,516.0 735.8,535.8 736.6,535.6 737.5,535.5 738.4,534.5 739.3,535.7 740.1,535.8 741.0,535.3 741.9,526.2 742.8,515.6 743.7,528.1 744.5,520.2 745.4,535.3 746.3,535.6 747.2,535.8 748.1,535.9 748.9,535.6 749.8,535.1 750.7,535.4 751.6,535.8 752.4,521.1 753.3,521.0 754.2,529.7 755.1,515.1 756.0,535.9 756.8,536.0 757.7,533.2 758.6,535.3 759.5,536.0 760.4,535.5 761.2,535.9 762.1,535.7 763.0,520.5 763.9,529.8 764.7,536.0 765.6,535.7 766.5,535.6 767.4,535.9 768.3,535.8 769.1,535.7 770.0,531.1 770.9,518.8 771.8,535.7 772.7,535.4 773.5,535.8 774.4,535.2 775.3,535.7 776.2,535.9 777.0,522.8 777.9,525.3 778.8,533.7 779.7,531.8 780.6,535.7 781.4,535.3 782.3,535.4 783.2,535.8 784.1,536.0 785.0,536.0 785.8,535.1 786.7,535.6 787.6,535.9 788.5,531.9 789.3,520.5 790.2,527.6 791.1,522.5 792.0,536.0 792.9,536.0 793.7,535.9 794.6,535.8 795.5,536.0 796.4,535.1 797.2,518.3 798.1,531.9 799.0,535.8 799.9,535.8 800.8,536.0 801.6,530.0 802.5,535.7 803.4,515.0 804.3,516.9 805.2,519.5 806.0,527.1 806.9,513.2 807.8,535.7 808.7,535.7 809.5,530.3 810.4,535.5 811.3,535.7 812.2,531.4 813.1,535.8 813.9,531.2 814.8,520.5 815.7,525.5 816.6,524.3 817.5,535.6 818.3,535.8 819.2,535.8 820.1,535.8 821.0,536.0 821.8,535.8 822.7,535.9 823.6,535.5 824.5,535.9 825.4,526.4 826.2,523.2 827.1,520.1 828.0,516.5 828.9,535.9 829.8,533.6 830.6,535.8 831.5,535.4 832.4,524.3 833.3,525.4 834.1,531.8 835.0,519.8 835.9,528.0 836.8,532.2 837.7,533.0 838.5,535.4 839.4,535.8 840.3,535.3 841.2,535.8 842.1,535.7 842.9,535.5 843.8,535.5 844.7,533.1 845.6,527.9 846.4,522.0 847.3,530.8 848.2,535.8 849.1,532.2 850.0,535.8 850.8,534.9 851.7,535.9 852.6,535.7 853.5,535.8 854.4,535.8 855.2,526.9 856.1,533.0 857.0,523.9 857.9,529.4 858.7,535.9 859.6,535.7 860.5,535.4 861.4,531.9 862.3,531.3 863.1,516.6 864.0,523.6 864.9,523.4 865.8,523.2 866.6,535.7 867.5,535.2 868.4,532.5 869.3,535.9 870.2,534.8 871.0,535.9 871.9,535.9 872.8,535.6 873.7,526.0 874.6,522.6 875.4,516.3 876.3,523.4 877.2,535.6 878.1,535.9 878.9,535.9 879.8,535.9 880.7,535.9 881.6,535.7 882.5,535.7 883.3,523.5 884.2,525.8 885.1,535.8 886.0,535.7 886.9,529.2 887.7,535.9 888.6,535.9 889.5,535.2 890.4,535.7 891.2,517.8 892.1,531.3 893.0,535.1 893.9,535.8 894.8,535.0 895.6,535.9 896.5,501.4 897.4,535.9 898.3,516.9 899.2,528.6 900.0,535.8 900.9,536.0 901.8,534.8 902.7,536.0 903.5,535.8 904.4,535.8 905.3,535.8 906.2,535.9 907.1,519.3 907.9,530.0 908.8,535.5 909.7,535.9 910.6,535.7 911.5,536.0 912.3,536.0 913.2,535.0 914.1,535.8 915.0,535.5 915.8,533.6 916.7,530.9 917.6,524.2 918.5,527.1 919.4,530.0 920.2,535.9 921.1,535.5 922.0,535.9 922.9,536.0 923.8,535.9 924.6,535.8 925.5,527.1 926.4,525.4 927.3,516.2 928.1,519.8 929.0,535.9 929.9,530.8 930.8,536.0 931.7,535.7 932.5,534.7 933.4,518.1 934.3,521.6 935.2,535.4 936.0,535.9 936.9,535.7 937.8,535.8 938.7,525.4 939.6,519.4 940.4,535.7 941.3,528.6 942.2,535.9 943.1,535.3 944.0,535.9 944.8,535.9 945.7,535.8 946.6,524.3 947.5,525.6 948.3,525.4 949.2,519.9 950.1,535.9 951.0,535.9 951.9,535.4 952.7,535.9 953.6,536.0 954.5,535.5 955.4,531.3 956.3,523.0 957.1,535.3 958.0,535.9 958.9,535.9 959.8,535.9 960.6,527.6 961.5,535.6 962.4,535.7 963.3,522.3 964.2,528.1 965.0,511.0 965.9,535.2 966.8,535.8 967.7,535.7 968.6,535.6 969.4,535.8 970.3,524.3 971.2,525.2 972.1,520.6 972.9,535.3 973.8,535.4 974.7,535.9 975.6,535.6 976.5,536.0 977.3,535.9 978.2,532.2 979.1,523.7 980.0,515.0 980.9,524.9 981.7,515.0 982.6,535.4 983.5,535.4 984.4,535.7 985.2,535.9 986.1,534.9 987.0,530.9 987.9,535.9 988.8,535.7 989.6,530.7 990.5,522.7 991.4,528.9 992.3,535.4 993.1,535.6 994.0,535.8 994.9,535.9 995.8,535.8 996.7,532.8 997.5,528.5 998.4,529.0 999.3,520.7 1000.2,532.5 1001.1,535.7 1001.9,536.0 1002.8,535.7 1003.7,534.6 1004.6,535.6 1005.4,535.8 1006.3,535.8 1007.2,527.3 1008.1,519.2 1009.0,524.4 1009.8,515.4 1010.7,528.1 1011.6,534.7 1012.5,535.8 1013.4,535.5 1014.2,535.8 1015.1,535.8 1016.0,536.0 1016.9,532.1 1017.7,521.4 1018.6,517.2 1019.5,524.6 1020.4,523.6 1021.3,536.0 1022.1,535.9 1023.0,535.8 1023.9,511.2 1024.8,535.5 1025.7,535.3 1026.5,534.9 1027.4,529.0 1028.3,528.8 1029.2,531.7 1030.0,517.9 1030.9,521.9 1031.8,535.8 1032.7,535.8 1033.6,535.3 1034.4,535.4 1035.3,535.9 1036.2,535.9 1037.1,530.6 1038.0,535.9 1038.8,535.9 1039.7,515.0 1040.6,524.9 1041.5,515.0 1042.3,521.2 1043.2,535.9 1044.1,535.4 1045.0,535.5 1045.9,535.7 1046.7,527.6 1047.6,526.3 1048.5,522.5 1049.4,535.8 1050.2,535.6 1051.1,535.6 1052.0,535.7 1052.9,535.5 1053.8,535.5 1054.6,525.6 1055.5,527.0 1056.4,517.7 1057.3,535.9 1058.2,532.7 1059.0,535.7 1059.9,530.4 1060.8,535.8 1061.7,535.7 1062.5,528.7 1063.4,525.9 1064.3,524.0 1065.2,536.0 1066.1,535.5 1066.9,536.0 1067.8,535.9 1068.7,535.8 1069.6,535.8 1070.5,534.0 1071.3,535.9 1072.2,535.9 1073.1,519.2 1074.0,527.2 1074.8,529.6 1075.7,531.8 1076.6,535.2 1077.5,535.9 1078.4,535.8 1079.2,535.7 1080.1,530.2 1081.0,519.2 1081.9,523.0 1082.8,535.9 1083.6,535.7 1084.5,536.0 1085.4,535.7 1086.3,535.9 1087.1,535.8 1088.0,535.9 1088.9,535.9 1089.8,535.8 1090.7,528.4 1091.5,521.5 1092.4,527.2 1093.3,529.0 1094.2,528.6 1095.1,535.5 1095.9,535.3 1096.8,535.7 1097.7,535.3 1098.6,535.8 1099.4,535.2 1100.3,535.8 1101.2,529.3 1102.1,527.1 1103.0,515.0 1103.8,534.5 1104.7,527.6 1105.6,535.2 1106.5,532.3 1107.4,535.8 1108.2,519.8 1109.1,529.4 1110.0,535.9 1110.9,536.0 1111.7,535.8 1112.6,526.3 1113.5,535.9 1114.4,535.7 1115.3,534.8 1116.1,535.9 1117.0,535.7 1117.9,523.1 1118.8,523.2 1119.6,526.6 1120.5,521.3 1121.4,530.4 1122.3,535.9 1123.2,536.0 1124.0,535.3 1124.9,535.9 1125.8,534.7 1126.7,535.8 1127.6,533.0 1128.4,531.5 1129.3,536.0 1130.2,519.1 1131.1,530.1 1131.9,535.9 1132.8,535.7 1133.7,535.9 1134.6,535.6 1135.5,527.5 1136.3,534.0 1137.2,533.5 1138.1,535.9 1139.0,531.3 1139.9,536.0 1140.7,535.9 1141.6,535.8 1142.5,535.9 1143.4,535.9 1144.2,529.5 1145.1,523.9 1146.0,533.4 1146.9,527.6 1147.8,536.0 1148.6,535.5 1149.5,535.9 1150.4,535.9 1151.3,535.6 1152.2,533.6 1153.0,515.0 1153.9,515.0 1154.8,521.7 1155.7,520.5 1156.5,534.5 1157.4,535.9 1158.3,536.0 1159.2,535.6 1160.1,535.8 1160.9,535.6 1161.8,535.9 1162.7,535.9 1163.6,505.9 1164.5,527.5 1165.3,520.3 1166.2,535.5 1167.1,533.3 1168.0,535.5 1168.8,535.9 1169.7,535.6 1170.6,529.8 1171.5,531.2 1172.4,528.4 1173.2,521.5 1174.1,535.8 1175.0,535.7 1175.9,535.9 1176.8,535.8 1177.6,535.8 1178.5,533.2 1179.4,522.5 1180.3,530.5 1181.1,526.5 1182.0,535.8 1182.9,535.7 1183.8,535.8 1184.7,535.9 1185.5,535.9 1186.4,536.0 1187.3,535.9 1188.2,535.5 1189.0,535.9 1189.9,523.6 1190.8,520.2 1191.7,535.1 1192.6,535.9 1193.4,535.9 1194.3,535.3 1195.2,527.5 1196.1,520.8 1197.0,525.3 1197.8,532.0 1198.7,536.0 1199.6,536.0 1200.5,535.8 1201.3,535.6 1202.2,532.6 1203.1,535.9 1204.0,535.8 1204.9,520.0 1205.7,524.5 1206.6,517.3 1207.5,524.3 1208.4,525.7 1209.3,535.7 1210.1,535.7 1211.0,536.0 1211.9,527.2 1212.8,527.1 1213.6,523.1 1214.5,523.5 1215.4,520.2 1216.3,535.9 1217.2,535.5 1218.0,512.2 1218.9,535.9 1219.8,531.8 1220.7,521.1 1221.6,527.0 1222.4,531.5 1223.3,524.5 1224.2,535.9 1225.1,535.7 1225.9,535.8 1226.8,536.0 1227.7,522.5 1228.6,531.7 1229.5,535.9 1230.3,535.3 1231.2,535.9 1232.1,535.8 1233.0,535.6 1233.9,535.9 1234.7,535.8 1235.6,535.4 1236.5,531.7 1237.4,530.6 1238.2,516.7 1239.1,527.6 1240.0,524.0 1240.9,535.9 1241.8,535.8 1242.6,535.9 1243.5,535.6 1244.4,518.9 1245.3,529.5 1246.1,529.6 1247.0,535.7 1247.9,535.3 1248.8,535.9 1249.7,536.0 1250.5,535.9 1251.4,535.9 1252.3,521.6 1253.2,523.6 1254.1,530.3 1254.9,516.0 1255.8,528.6 1256.7,535.4 1257.6,535.8 1258.4,535.8 1259.3,535.5 1260.2,525.6 1261.1,522.9 1262.0,515.0 1262.8,522.3 1263.7,532.1 1264.6,535.8 1265.5,525.6 1266.4,535.8 1267.2,535.8 1268.1,535.8 1269.0,535.8 1269.9,535.6 1270.7,535.9 1271.6,532.0 1272.5,524.2 1273.4,518.1 1274.3,535.4 1275.1,535.5 1276.0,536.0 1276.9,535.9 1277.8,523.7 1278.7,524.2 1279.5,517.0 1280.4,526.2 1281.3,524.2 1282.2,535.9 1283.0,536.0 1283.9,535.7 1284.8,536.0 1285.7,535.9 1286.6,535.3 1287.4,535.9 1288.3,535.8 1289.2,535.8 1290.1,528.5 1291.0,518.2 1291.8,530.7 1292.7,535.0 1293.6,535.5 1294.5,535.7 1295.3,534.8 1296.2,511.2 1297.1,535.7 1298.0,535.8 1298.9,535.6 1299.7,535.9 1300.6,531.2 1301.5,525.6 1302.4,529.9 1303.2,525.0 1304.1,517.5 1305.0,535.9 1305.9,535.5 1306.8,535.7 1307.6,534.9 1308.5,535.8 1309.4,521.9 1310.3,518.0 1311.2,529.6 1312.0,525.7 1312.9,535.9 1313.8,535.9 1314.7,536.0 1315.5,535.0 1316.4,531.6 1317.3,518.9 1318.2,526.8 1319.1,529.0 1319.9,535.9 1320.8,535.7 1321.7,535.7 1322.6,535.6 1323.5,535.6 1324.3,521.1 1325.2,525.0 1326.1,536.0 1327.0,535.8 1327.8,535.7 1328.7,535.5 1329.6,535.0 1330.5,530.5 1331.4,520.2 1332.2,535.7 1333.1,535.5 1334.0,535.7 1334.9,535.9 1335.8,535.8 1336.6,535.4 1337.5,535.7 1338.4,523.5 1339.3,526.4 1340.1,519.6 1341.0,524.5 1341.9,531.8 1342.8,535.5 1343.7,533.1 1344.5,535.5 1345.4,535.9 1346.3,535.5 1347.2,535.8 1348.1,524.8 1348.9,523.5 1349.8,518.0 1350.7,535.2 1351.6,535.8 1352.4,535.2 1353.3,535.4 1354.2,535.8 1355.1,535.7 1356.0,535.7 1356.8,536.0 1357.7,535.8 1358.6,519.2 1359.5,530.1 1360.4,524.2 1361.2,529.8 1362.1,535.8 1363.0,535.9 1363.9,535.9 1364.7,535.6 1365.6,535.6 1366.5,535.8" fill="none" stroke="#0080FF" stroke-width="1.00" shape-rendering="crispEdges"/>
<path d="M154.2 536.5h52.7" stroke="#0080FF" stroke-width="1"/></g>
<g><circle cx="103.60" cy="539.30" r="5.5" fill="#C8C800"/>
<circle cx="149.30" cy="539.30" r="5.5" fill="#C8C800"/>
<circle cx="208.30" cy="539.30" r="5.5" fill="#C8C800"/>
<circle cx="255.00" cy="539.30" r="5.5" fill="#C8C800"/>
<circle cx="261.40" cy="539.30" r="5.5" fill="#C8C800"/>
<circle cx="307.50" cy="539.30" r="5.5" fill="#C8C800"/>
<circle cx="314.50" cy="539.30" r="5.5" fill="#C8C800"/>
<circle cx="360.00" cy="539.30" r="5.5" fill="#C8C800"/>
<circle cx="366.50" cy="539.30" r="5.5" fill="#C8C800"/>
<circle cx="413.40" cy="539.30" r="5.5" fill="#C8C800"/>
<circle cx="419.50" cy="539.30" r="5.5" fill="#C8C800"/>
<circle cx="466.40" cy="539.30" r="5.5" fill="#C8C800"/>
<circle cx="472.90" cy="539.30" r="5.5" fill="#C8C800"/>
<circle cx="518.50" cy="539.30" r="5.5" fill="#C8C800"/>
<circle cx="524.60" cy="539.30" r="5.5" fill="#C8C800"/>
<circle cx="571.00" cy="539.30" r="5.5" fill="#C8C800"/>
<circle cx="577.50" cy="539.30" r="5.5" fill="#C8C800"/>
<circle cx="624.40" cy="539.30" r="5.5" fill="#C8C800"/>
<circle cx="630.50" cy="539.30" r="5.5" fill="#C8C800"/>
<circle cx="676.40" cy="539.30" r="5.5" fill="#C8C800"/>
<circle cx="683.40" cy="539.30" r="5.5" fill="#C8C800"/>
<circle cx="729.40" cy="539.30" r="5.5" fill="#C8C800"/>
<circle cx="735.60" cy="539.30" r="5.5" fill="#C8C800"/>
<circle cx="782.50" cy="539.30" r="5.5" fill="#C8C800"/>
<circle cx="788.30" cy="539.30" r="5.5" fill="#C8C800"/>
<circle cx="835.20" cy="539.30" r="5.5" fill="#C8C800"/>
<circle cx="841.50" cy="539.30" r="5.5" fill="#C8C800"/>
<circle cx="887.30" cy="539.30" r="5.5" fill="#C8C800"/>
<circle cx="893.50" cy="539.30" r="5.5" fill="#C8C800"/>
<circle cx="940.40" cy="539.30" r="5.5" fill="#C8C800"/>
<circle cx="946.50" cy="539.30" r="5.5" fill="#C8C800"/>
<circle cx="993.50" cy="539.30" r="5.5" fill="#C8C800"/>
<circle cx="999.40" cy="539.30" r="5.5" fill="#C8C800"/>
<circle cx="1045.20" cy="539.30" r="5.5" fill="#C8C800"/>
<circle cx="1052.50" cy="539.30" r="5.5" fill="#C8C800"/>
<circle cx="1098.20" cy="539.30" r="5.5" fill="#C8C800"/>
<circle cx="1104.50" cy="539.30" r="5.5" fill="#C8C800"/>
<circle cx="1151.30" cy="539.30" r="5.5" fill="#C8C800"/>
<circle cx="1157.20" cy="539.30" r="5.5" fill="#C8C800"/>
<circle cx="1203.00" cy="539.30" r="5.5" fill="#C8C800"/>
<circle cx="1210.70" cy="539.30" r="5.5" fill="#C8C800"/>
<circle cx="1255.90" cy="539.30" r="5.5" fill="#C8C800"/>
<circle cx="1262.40" cy="539.30" r="5.5" fill="#C8C800"/>
<circle cx="1309.30" cy="539.30" r="5.5" fill="#C8C800"/>
<circle cx="1315.50" cy="539.30" r="5.5" fill="#C8C800"/>
<circle cx="1362.30" cy="539.30" r="5.5" fill="#C8C800"/></g>
<g><rect x="101.5" y="57.5" width="1265.0" height="482.0" fill="none" stroke="#000" stroke-width="1"/></g>
<g><circle cx="103.60" cy="488.30" r="5.1" fill="none" stroke="#C04000" stroke-width="1.1"/>
<path d="M103.60 493.30v1.4M103.60 483.30v-1.4M108.60 488.30h1.4M98.60 488.30h-1.4" stroke="#C04000" stroke-width="1"/>
<circle cx="149.30" cy="508.30" r="5.1" fill="none" stroke="#C04000" stroke-width="1.1"/>
<path d="M149.30 513.30v1.4M149.30 503.30v-1.4M154.30 508.30h1.4M144.30 508.30h-1.4" stroke="#C04000" stroke-width="1"/>
<circle cx="208.30" cy="511.40" r="5.1" fill="none" stroke="#C04000" stroke-width="1.1"/>
<path d="M208.30 516.40v1.4M208.30 506.40v-1.4M213.30 511.40h1.4M203.30 511.40h-1.4" stroke="#C04000" stroke-width="1"/>
<circle cx="255.00" cy="510.40" r="5.1" fill="none" stroke="#C04000" stroke-width="1.1"/>
<path d="M255.00 515.40v1.4M255.00 505.40v-1.4M260.00 510.40h1.4M250.00 510.40h-1.4" stroke="#C04000" stroke-width="1"/>
<circle cx="261.40" cy="514.60" r="5.1" fill="none" stroke="#C04000" stroke-width="1.1"/>
<path d="M261.40 519.60v1.4M261.40 509.60v-1.4M266.40 514.60h1.4M256.40 514.60h-1.4" stroke="#C04000" stroke-width="1"/>
<circle cx="307.50" cy="510.90" r="5.1" fill="none" stroke="#C04000" stroke-width="1.1"/>
<path d="M307.50 515.90v1.4M307.50 505.90v-1.4M312.50 510.90h1.4M302.50 510.90h-1.4" stroke="#C04000" stroke-width="1"/>
<circle cx="314.50" cy="514.40" r="5.1" fill="none" stroke="#C04000" stroke-width="1.1"/>
<path d="M314.50 519.40v1.4M314.50 509.40v-1.4M319.50 514.40h1.4M309.50 514.40h-1.4" stroke="#C04000" stroke-width="1"/>
<circle cx="360.00" cy="508.30" r="5.1" fill="none" stroke="#C04000" stroke-width="1.1"/>
<path d="M360.00 513.30v1.4M360.00 503.30v-1.4M365.00 508.30h1.4M355.00 508.30h-1.4" stroke="#C04000" stroke-width="1"/>
<circle cx="366.50" cy="511.40" r="5.1" fill="none" stroke="#C04000" stroke-width="1.1"/>
<path d="M366.50 516.40v1.4M366.50 506.40v-1.4M371.50 511.40h1.4M361.50 511.40h-1.4" stroke="#C04000" stroke-width="1"/>
<circle cx="413.40" cy="509.10" r="5.1" fill="none" stroke="#C04000" stroke-width="1.1"/>
<path d="M413.40 514.10v1.4M413.40 504.10v-1.4M418.40 509.10h1.4M408.40 509.10h-1.4" stroke="#C04000" stroke-width="1"/>
<circle cx="419.50" cy="512.30" r="5.1" fill="none" stroke="#C04000" stroke-width="1.1"/>
<path d="M419.50 517.30v1.4M419.50 507.30v-1.4M424.50 512.30h1.4M414.50 512.30h-1.4" stroke="#C04000" stroke-width="1"/>
<circle cx="466.40" cy="509.50" r="5.1" fill="none" stroke="#C04000" stroke-width="1.1"/>
<path d="M466.40 514.50v1.4M466.40 504.50v-1.4M471.40 509.50h1.4M461.40 509.50h-1.4" stroke="#C04000" stroke-width="1"/>
<circle cx="472.90" cy="510.00" r="5.1" fill="none" stroke="#C04000" stroke-width="1.1"/>
<path d="M472.90 515.00v1.4M472.90 505.00v-1.4M477.90 510.00h1.4M467.90 510.00h-1.4" stroke="#C04000" stroke-width="1"/>
<circle cx="518.50" cy="510.40" r="5.1" fill="none" stroke="#C04000" stroke-width="1.1"/>
<path d="M518.50 515.40v1.4M518.50 505.40v-1.4M523.50 510.40h1.4M513.50 510.40h-1.4" stroke="#C04000" stroke-width="1"/>
<circle cx="524.60" cy="511.20" r="5.1" fill="none" stroke="#C04000" stroke-width="1.1"/>
<path d="M524.60 516.20v1.4M524.60 506.20v-1.4M529.60 511.20h1.4M519.60 511.20h-1.4" stroke="#C04000" stroke-width="1"/>
<circle cx="571.00" cy="507.40" r="5.1" fill="none" stroke="#C04000" stroke-width="1.1"/>
<path d="M571.00 512.40v1.4M571.00 502.40v-1.4M576.00 507.40h1.4M566.00 507.40h-1.4" stroke="#C04000" stroke-width="1"/>
<circle cx="577.50" cy="509.50" r="5.1" fill="none" stroke="#C04000" stroke-width="1.1"/>
<path d="M577.50 514.50v1.4M577.50 504.50v-1.4M582.50 509.50h1.4M572.50 509.50h-1.4" stroke="#C04000" stroke-width="1"/>
<circle cx="624.40" cy="507.40" r="5.1" fill="none" stroke="#C04000" stroke-width="1.1"/>
<path d="M624.40 512.40v1.4M624.40 502.40v-1.4M629.40 507.40h1.4M619.40 507.40h-1.4" stroke="#C04000" stroke-width="1"/>
<circle cx="630.50" cy="508.30" r="5.1" fill="none" stroke="#C04000" stroke-width="1.1"/>
<path d="M630.50 513.30v1.4M630.50 503.30v-1.4M635.50 508.30h1.4M625.50 508.30h-1.4" stroke="#C04000" stroke-width="1"/>
<circle cx="676.40" cy="503.50" r="5.1" fill="none" stroke="#C04000" stroke-width="1.1"/>
<path d="M676.40 508.50v1.4M676.40 498.50v-1.4M681.40 503.50h1.4M671.40 503.50h-1.4" stroke="#C04000" stroke-width="1"/>
<circle cx="683.40" cy="510.50" r="5.1" fill="none" stroke="#C04000" stroke-width="1.1"/>
<path d="M683.40 515.50v1.4M683.40 505.50v-1.4M688.40 510.50h1.4M678.40 510.50h-1.4" stroke="#C04000" stroke-width="1"/>
<circle cx="729.40" cy="504.40" r="5.1" fill="none" stroke="#C04000" stroke-width="1.1"/>
<path d="M729.40 509.40v1.4M729.40 499.40v-1.4M734.40 504.40h1.4M724.40 504.40h-1.4" stroke="#C04000" stroke-width="1"/>
<circle cx="735.60" cy="507.10" r="5.1" fill="none" stroke="#C04000" stroke-width="1.1"/>
<path d="M735.60 512.10v1.4M735.60 502.10v-1.4M740.60 507.10h1.4M730.60 507.10h-1.4" stroke="#C04000" stroke-width="1"/>
<circle cx="782.50" cy="499.60" r="5.1" fill="none" stroke="#C04000" stroke-width="1.1"/>
<path d="M782.50 504.60v1.4M782.50 494.60v-1.4M787.50 499.60h1.4M777.50 499.60h-1.4" stroke="#C04000" stroke-width="1"/>
<circle cx="788.30" cy="495.40" r="5.1" fill="none" stroke="#C04000" stroke-width="1.1"/>
<path d="M788.30 500.40v1.4M788.30 490.40v-1.4M793.30 495.40h1.4M783.30 495.40h-1.4" stroke="#C04000" stroke-width="1"/>
<circle cx="835.20" cy="486.30" r="5.1" fill="none" stroke="#C04000" stroke-width="1.1"/>
<path d="M835.20 491.30v1.4M835.20 481.30v-1.4M840.20 486.30h1.4M830.20 486.30h-1.4" stroke="#C04000" stroke-width="1"/>
<circle cx="841.50" cy="487.30" r="5.1" fill="none" stroke="#C04000" stroke-width="1.1"/>
<path d="M841.50 492.30v1.4M841.50 482.30v-1.4M846.50 487.30h1.4M836.50 487.30h-1.4" stroke="#C04000" stroke-width="1"/>
<circle cx="887.30" cy="485.40" r="5.1" fill="none" stroke="#C04000" stroke-width="1.1"/>
<path d="M887.30 490.40v1.4M887.30 480.40v-1.4M892.30 485.40h1.4M882.30 485.40h-1.4" stroke="#C04000" stroke-width="1"/>
<circle cx="893.50" cy="487.20" r="5.1" fill="none" stroke="#C04000" stroke-width="1.1"/>
<path d="M893.50 492.20v1.4M893.50 482.20v-1.4M898.50 487.20h1.4M888.50 487.20h-1.4" stroke="#C04000" stroke-width="1"/>
<circle cx="940.40" cy="464.50" r="5.1" fill="none" stroke="#C04000" stroke-width="1.1"/>
<path d="M940.40 469.50v1.4M940.40 459.50v-1.4M945.40 464.50h1.4M935.40 464.50h-1.4" stroke="#C04000" stroke-width="1"/>
<circle cx="946.50" cy="453.40" r="5.1" fill="none" stroke="#C04000" stroke-width="1.1"/>
<path d="M946.50 458.40v1.4M946.50 448.40v-1.4M951.50 453.40h1.4M941.50 453.40h-1.4" stroke="#C04000" stroke-width="1"/>
<circle cx="993.50" cy="466.40" r="5.1" fill="none" stroke="#C04000" stroke-width="1.1"/>
<path d="M993.50 471.40v1.4M993.50 461.40v-1.4M998.50 466.40h1.4M988.50 466.40h-1.4" stroke="#C04000" stroke-width="1"/>
<circle cx="999.40" cy="460.30" r="5.1" fill="none" stroke="#C04000" stroke-width="1.1"/>
<path d="M999.40 465.30v1.4M999.40 455.30v-1.4M1004.40 460.30h1.4M994.40 460.30h-1.4" stroke="#C04000" stroke-width="1"/>
<circle cx="1045.20" cy="468.30" r="5.1" fill="none" stroke="#C04000" stroke-width="1.1"/>
<path d="M1045.20 473.30v1.4M1045.20 463.30v-1.4M1050.20 468.30h1.4M1040.20 468.30h-1.4" stroke="#C04000" stroke-width="1"/>
<circle cx="1052.50" cy="460.30" r="5.1" fill="none" stroke="#C04000" stroke-width="1.1"/>
<path d="M1052.50 465.30v1.4M1052.50 455.30v-1.4M1057.50 460.30h1.4M1047.50 460.30h-1.4" stroke="#C04000" stroke-width="1"/>
<circle cx="1098.20" cy="482.10" r="5.1" fill="none" stroke="#C04000" stroke-width="1.1"/>
<path d="M1098.20 487.10v1.4M1098.20 477.10v-1.4M1103.20 482.10h1.4M1093.20 482.10h-1.4" stroke="#C04000" stroke-width="1"/>
<circle cx="1104.50" cy="488.50" r="5.1" fill="none" stroke="#C04000" stroke-width="1.1"/>
<path d="M1104.50 493.50v1.4M1104.50 483.50v-1.4M1109.50 488.50h1.4M1099.50 488.50h-1.4" stroke="#C04000" stroke-width="1"/>
<circle cx="1151.30" cy="481.40" r="5.1" fill="none" stroke="#C04000" stroke-width="1.1"/>
<path d="M1151.30 486.40v1.4M1151.30 476.40v-1.4M1156.30 481.40h1.4M1146.30 481.40h-1.4" stroke="#C04000" stroke-width="1"/>
<circle cx="1157.20" cy="488.50" r="5.1" fill="none" stroke="#C04000" stroke-width="1.1"/>
<path d="M1157.20 493.50v1.4M1157.20 483.50v-1.4M1162.20 488.50h1.4M1152.20 488.50h-1.4" stroke="#C04000" stroke-width="1"/>
<circle cx="1203.00" cy="483.70" r="5.1" fill="none" stroke="#C04000" stroke-width="1.1"/>
<path d="M1203.00 488.70v1.4M1203.00 478.70v-1.4M1208.00 483.70h1.4M1198.00 483.70h-1.4" stroke="#C04000" stroke-width="1"/>
<circle cx="1210.70" cy="484.60" r="5.1" fill="none" stroke="#C04000" stroke-width="1.1"/>
<path d="M1210.70 489.60v1.4M1210.70 479.60v-1.4M1215.70 484.60h1.4M1205.70 484.60h-1.4" stroke="#C04000" stroke-width="1"/>
<circle cx="1255.90" cy="485.60" r="5.1" fill="none" stroke="#C04000" stroke-width="1.1"/>
<path d="M1255.90 490.60v1.4M1255.90 480.60v-1.4M1260.90 485.60h1.4M1250.90 485.60h-1.4" stroke="#C04000" stroke-width="1"/>
<circle cx="1262.40" cy="484.60" r="5.1" fill="none" stroke="#C04000" stroke-width="1.1"/>
<path d="M1262.40 489.60v1.4M1262.40 479.60v-1.4M1267.40 484.60h1.4M1257.40 484.60h-1.4" stroke="#C04000" stroke-width="1"/>
<circle cx="1309.30" cy="489.50" r="5.1" fill="none" stroke="#C04000" stroke-width="1.1"/>
<path d="M1309.30 494.50v1.4M1309.30 484.50v-1.4M1314.30 489.50h1.4M1304.30 489.50h-1.4" stroke="#C04000" stroke-width="1"/>
<circle cx="1315.50" cy="484.10" r="5.1" fill="none" stroke="#C04000" stroke-width="1.1"/>
<path d="M1315.50 489.10v1.4M1315.50 479.10v-1.4M1320.50 484.10h1.4M1310.50 484.10h-1.4" stroke="#C04000" stroke-width="1"/>
<circle cx="1362.30" cy="497.40" r="5.1" fill="none" stroke="#C04000" stroke-width="1.1"/>
<path d="M1362.30 502.40v1.4M1362.30 492.40v-1.4M1367.30 497.40h1.4M1357.30 497.40h-1.4" stroke="#C04000" stroke-width="1"/>
<rect x="642.00" y="480.90" width="13.00" height="13.00" fill="#00EEEE"/>
<rect x="692.00" y="480.90" width="13.00" height="13.00" fill="#00EEEE"/>
<path d="M1275.50 456.90L1283.60 468.50L1267.40 468.50Z" fill="none" stroke="#4169E1" stroke-width="1.05" stroke-linejoin="miter"/>
<path d="M206.70 340.80L215.00 328.30L198.40 328.30Z" fill="none" stroke="#C080FF" stroke-width="1.05"/>
<path d="M206.70 359.70L215.00 347.50L198.40 347.50Z" fill="none" stroke="#306080" stroke-width="1.05"/>
<path d="M200.10 371.50h12.80M206.50 365.10v12.80" stroke="#008040" stroke-width="1.1"/>
<path d="M206.60 402.00L214.90 414.80L198.30 414.80Z" fill="#FFC020"/>
<rect x="200.40" y="427.35" width="12.00" height="12.00" fill="none" stroke="#C000FF" stroke-width="1.1"/>
<path d="M206.60 456.80L214.90 468.50L198.30 468.50Z" fill="none" stroke="#4169E1" stroke-width="1.05" stroke-linejoin="miter"/>
<rect x="200.10" y="480.90" width="13.00" height="13.00" fill="#00EEEE"/></g>
<g><text x="439.96" y="32.00" textLength="34.06" lengthAdjust="spacingAndGlyphs">pi15</text>
<text x="480.97" y="32.00" textLength="29.14" lengthAdjust="spacingAndGlyphs">Sep</text>
<text x="515.34" y="32.00" textLength="19.97" lengthAdjust="spacingAndGlyphs">15</text>
<text x="547.46" y="32.00" textLength="62.73" lengthAdjust="spacingAndGlyphs">near/far</text>
<text x="615.41" y="32.00" textLength="75.32" lengthAdjust="spacingAndGlyphs">ICMP/TCP</text>
<text x="695.96" y="32.00" textLength="34.84" lengthAdjust="spacingAndGlyphs">ping</text>
<text x="736.04" y="32.00" textLength="29.95" lengthAdjust="spacingAndGlyphs">and</text>
<text x="772.08" y="32.00" textLength="28.94" lengthAdjust="spacingAndGlyphs">curl</text>
<text x="807.10" y="32.00" textLength="44.69" lengthAdjust="spacingAndGlyphs">times</text>
<text x="857.03" y="32.00" textLength="27.80" lengthAdjust="spacingAndGlyphs">[No</text>
<text x="890.07" y="32.00" textLength="46.00" lengthAdjust="spacingAndGlyphs">msmt</text>
<text x="941.30" y="32.00" textLength="82.11" lengthAdjust="spacingAndGlyphs">1AM-2AM]</text>
<text x="326.48" y="590.00" textLength="70.23" lengthAdjust="spacingAndGlyphs">&lt;-START</text>
<text x="401.06" y="590.00" textLength="15.61" lengthAdjust="spacingAndGlyphs">at</text>
<text x="422.75" y="590.00" textLength="34.05" lengthAdjust="spacingAndGlyphs">2AM</text>
<text x="462.04" y="590.00" textLength="44.50" lengthAdjust="spacingAndGlyphs">Yday,</text>
<text x="511.79" y="590.00" textLength="37.66" lengthAdjust="spacingAndGlyphs">right</text>
<text x="555.52" y="590.00" textLength="15.59" lengthAdjust="spacingAndGlyphs">to</text>
<text x="576.35" y="590.00" textLength="44.48" lengthAdjust="spacingAndGlyphs">12AM</text>
<text x="626.07" y="590.00" textLength="64.73" lengthAdjust="spacingAndGlyphs">Tday-&gt;,</text>
<text x="696.04" y="590.00" textLength="36.43" lengthAdjust="spacingAndGlyphs">then</text>
<text x="737.69" y="590.00" textLength="38.89" lengthAdjust="spacingAndGlyphs">wrap</text>
<text x="782.68" y="590.00" textLength="25.68" lengthAdjust="spacingAndGlyphs">left</text>
<text x="813.58" y="590.00" textLength="16.44" lengthAdjust="spacingAndGlyphs">to</text>
<text x="835.26" y="590.00" textLength="34.05" lengthAdjust="spacingAndGlyphs">1AM</text>
<text x="874.53" y="590.00" textLength="58.98" lengthAdjust="spacingAndGlyphs">Tday&lt;-</text>
<text x="938.74" y="590.00" textLength="57.38" lengthAdjust="spacingAndGlyphs">[ignore</text>
<text x="1001.36" y="590.00" textLength="88.12" lengthAdjust="spacingAndGlyphs">connecting</text>
<text x="1095.59" y="590.00" textLength="43.63" lengthAdjust="spacingAndGlyphs">lines]</text>
<text x="77.40" y="543.00" textLength="9.34" lengthAdjust="spacingAndGlyphs">0</text>
<text x="56.03" y="425.00" textLength="29.54" lengthAdjust="spacingAndGlyphs">500</text>
<text x="46.76" y="308.00" textLength="39.58" lengthAdjust="spacingAndGlyphs">1000</text>
<text x="46.76" y="190.00" textLength="39.58" lengthAdjust="spacingAndGlyphs">1500</text>
<text x="45.73" y="73.00" textLength="39.77" lengthAdjust="spacingAndGlyphs">2000</text>
<text x="77.33" y="562.00" textLength="45.13" lengthAdjust="spacingAndGlyphs">00:00</text>
<text x="182.53" y="562.00" textLength="45.13" lengthAdjust="spacingAndGlyphs">02:00</text>
<text x="287.73" y="562.00" textLength="45.80" lengthAdjust="spacingAndGlyphs">04:00</text>
<text x="393.62" y="562.00" textLength="45.13" lengthAdjust="spacingAndGlyphs">06:00</text>
<text x="498.83" y="562.00" textLength="44.95" lengthAdjust="spacingAndGlyphs">08:00</text>
<text x="604.98" y="562.00" textLength="45.37" lengthAdjust="spacingAndGlyphs">10:00</text>
<text x="710.22" y="562.00" textLength="45.16" lengthAdjust="spacingAndGlyphs">12:00</text>
<text x="815.41" y="562.00" textLength="45.16" lengthAdjust="spacingAndGlyphs">14:00</text>
<text x="921.31" y="562.00" textLength="45.16" lengthAdjust="spacingAndGlyphs">16:00</text>
<text x="1026.50" y="562.00" textLength="45.16" lengthAdjust="spacingAndGlyphs">18:00</text>
<text x="1131.24" y="562.00" textLength="45.13" lengthAdjust="spacingAndGlyphs">20:00</text>
<text x="1236.45" y="562.00" textLength="45.80" lengthAdjust="spacingAndGlyphs">22:00</text>
<text x="1342.33" y="562.00" textLength="45.13" lengthAdjust="spacingAndGlyphs">00:00</text>
<text x="130.64" y="80.00" textLength="54.37" lengthAdjust="spacingAndGlyphs">{/:Bold</text>
<text x="190.06" y="80.00" textLength="88.37" lengthAdjust="spacingAndGlyphs">GENERAL:}</text>
<text x="128.93" y="100.00" textLength="36.60" lengthAdjust="spacingAndGlyphs">near</text>
<text x="170.80" y="100.00" textLength="86.76" lengthAdjust="spacingAndGlyphs">ICMP[ping]</text>
<text x="263.68" y="100.00" textLength="51.05" lengthAdjust="spacingAndGlyphs">delays</text>
<text x="320.86" y="100.00" textLength="122.02" lengthAdjust="spacingAndGlyphs">-Ypingresult.txt</text>
<text x="448.15" y="100.00" textLength="28.84" lengthAdjust="spacingAndGlyphs">last</text>
<text x="482.27" y="100.00" textLength="36.88" lengthAdjust="spacingAndGlyphs">hour</text>
<text x="524.38" y="100.00" textLength="48.42" lengthAdjust="spacingAndGlyphs">target</text>
<text x="578.93" y="100.00" textLength="117.17" lengthAdjust="spacingAndGlyphs">72.31.129.117</text>
<text x="701.37" y="100.00" textLength="53.56" lengthAdjust="spacingAndGlyphs">hop#2</text>
<text x="760.20" y="100.00" textLength="30.78" lengthAdjust="spacingAndGlyphs">---&gt;</text>
<text x="128.73" y="119.00" textLength="31.99" lengthAdjust="spacingAndGlyphs">TCP</text>
<text x="165.93" y="119.00" textLength="33.90" lengthAdjust="spacingAndGlyphs">ping</text>
<text x="205.05" y="119.00" textLength="53.15" lengthAdjust="spacingAndGlyphs">delays</text>
<text x="262.54" y="119.00" textLength="147.19" lengthAdjust="spacingAndGlyphs">-YTimetcpping.txt-</text>
<text x="414.94" y="119.00" textLength="42.40" lengthAdjust="spacingAndGlyphs">using</text>
<text x="461.69" y="119.00" textLength="124.04" lengthAdjust="spacingAndGlyphs">Top100Web---&gt;</text>
<text x="128.93" y="138.00" textLength="40.25" lengthAdjust="spacingAndGlyphs">deep</text>
<text x="173.59" y="138.00" textLength="87.45" lengthAdjust="spacingAndGlyphs">ICMP[ping]</text>
<text x="267.17" y="138.00" textLength="51.80" lengthAdjust="spacingAndGlyphs">delays</text>
<text x="323.37" y="138.00" textLength="195.93" lengthAdjust="spacingAndGlyphs">-YCustPingSiteTimes.txt-</text>
<text x="524.56" y="138.00" textLength="16.81" lengthAdjust="spacingAndGlyphs">[X</text>
<text x="547.49" y="138.00" textLength="59.78" lengthAdjust="spacingAndGlyphs">generic</text>
<text x="612.53" y="138.00" textLength="58.07" lengthAdjust="spacingAndGlyphs">rpi]---&gt;</text>
<text x="129.51" y="157.00" textLength="32.13" lengthAdjust="spacingAndGlyphs">web</text>
<text x="167.71" y="157.00" textLength="29.77" lengthAdjust="spacingAndGlyphs">curl</text>
<text x="202.68" y="157.00" textLength="44.64" lengthAdjust="spacingAndGlyphs">times</text>
<text x="252.53" y="157.00" textLength="113.48" lengthAdjust="spacingAndGlyphs">-Ycurltime.txt-</text>
<text x="371.24" y="157.00" textLength="42.46" lengthAdjust="spacingAndGlyphs">using</text>
<text x="419.77" y="157.00" textLength="166.55" lengthAdjust="spacingAndGlyphs">www.google.com---&gt;</text>
<text x="128.93" y="177.00" textLength="33.64" lengthAdjust="spacingAndGlyphs">DNS</text>
<text x="168.67" y="177.00" textLength="45.72" lengthAdjust="spacingAndGlyphs">query</text>
<text x="220.47" y="177.00" textLength="43.98" lengthAdjust="spacingAndGlyphs">times</text>
<text x="270.55" y="177.00" textLength="141.67" lengthAdjust="spacingAndGlyphs">-Ycurldnstime.txt-</text>
<text x="417.48" y="177.00" textLength="42.64" lengthAdjust="spacingAndGlyphs">using</text>
<text x="466.25" y="177.00" textLength="57.15" lengthAdjust="spacingAndGlyphs">router?</text>
<text x="529.52" y="177.00" textLength="168.40" lengthAdjust="spacingAndGlyphs">192.168.254.254---&gt;</text>
<text x="128.08" y="196.00" textLength="83.60" lengthAdjust="spacingAndGlyphs">Hyperping</text>
<text x="217.85" y="196.00" textLength="70.88" lengthAdjust="spacingAndGlyphs">timeouts</text>
<text x="294.04" y="196.00" textLength="149.89" lengthAdjust="spacingAndGlyphs">-YHPpingresult.txt-</text>
<text x="450.11" y="196.00" textLength="29.31" lengthAdjust="spacingAndGlyphs">---&gt;</text>
<text x="128.08" y="215.00" textLength="34.40" lengthAdjust="spacingAndGlyphs">Last</text>
<text x="167.77" y="215.00" textLength="20.11" lengthAdjust="spacingAndGlyphs">rpi</text>
<text x="194.05" y="215.00" textLength="41.00" lengthAdjust="spacingAndGlyphs">boot:</text>
<text x="241.21" y="215.00" textLength="93.48" lengthAdjust="spacingAndGlyphs">2024-09-11</text>
<text x="339.98" y="215.00" textLength="72.49" lengthAdjust="spacingAndGlyphs">09:03:59</text>
<text x="211.99" y="235.00" textLength="40.13" lengthAdjust="spacingAndGlyphs">-DNS</text>
<text x="257.33" y="235.00" textLength="51.41" lengthAdjust="spacingAndGlyphs">query,</text>
<text x="314.79" y="235.00" textLength="32.88" lengthAdjust="spacingAndGlyphs">web</text>
<text x="352.87" y="235.00" textLength="28.82" lengthAdjust="spacingAndGlyphs">curl</text>
<text x="388.61" y="235.00" textLength="25.52" lengthAdjust="spacingAndGlyphs">are</text>
<text x="419.32" y="235.00" textLength="69.29" lengthAdjust="spacingAndGlyphs">twice/hr,</text>
<text x="494.67" y="235.00" textLength="74.07" lengthAdjust="spacingAndGlyphs">beginnng</text>
<text x="575.66" y="235.00" textLength="29.82" lengthAdjust="spacingAndGlyphs">and</text>
<text x="610.69" y="235.00" textLength="29.87" lengthAdjust="spacingAndGlyphs">end</text>
<text x="645.76" y="235.00" textLength="15.72" lengthAdjust="spacingAndGlyphs">of</text>
<text x="666.67" y="235.00" textLength="37.37" lengthAdjust="spacingAndGlyphs">hour</text>
<text x="211.99" y="254.00" textLength="87.29" lengthAdjust="spacingAndGlyphs">-near,deep</text>
<text x="305.43" y="254.00" textLength="39.64" lengthAdjust="spacingAndGlyphs">ICMP</text>
<text x="350.34" y="254.00" textLength="42.82" lengthAdjust="spacingAndGlyphs">pings</text>
<text x="399.29" y="254.00" textLength="24.92" lengthAdjust="spacingAndGlyphs">are</text>
<text x="430.33" y="254.00" textLength="73.80" lengthAdjust="spacingAndGlyphs">once/min</text>
<text x="510.28" y="254.00" textLength="34.76" lengthAdjust="spacingAndGlyphs">until</text>
<text x="550.31" y="254.00" textLength="110.08" lengthAdjust="spacingAndGlyphs">timeout[1000</text>
<text x="666.54" y="254.00" textLength="54.62" lengthAdjust="spacingAndGlyphs">msec],</text>
<text x="726.43" y="254.00" textLength="40.46" lengthAdjust="spacingAndGlyphs">then:</text>
<text x="221.99" y="273.00" textLength="97.10" lengthAdjust="spacingAndGlyphs">-Hyperpings</text>
<text x="325.27" y="273.00" textLength="58.53" lengthAdjust="spacingAndGlyphs">[6/min]</text>
<text x="389.13" y="273.00" textLength="71.97" lengthAdjust="spacingAndGlyphs">initiated;</text>
<text x="466.44" y="273.00" textLength="65.63" lengthAdjust="spacingAndGlyphs">[vertical</text>
<text x="538.26" y="273.00" textLength="68.83" lengthAdjust="spacingAndGlyphs">stacked]</text>
<text x="611.52" y="273.00" textLength="37.57" lengthAdjust="spacingAndGlyphs">ticks</text>
<text x="654.40" y="273.00" textLength="25.91" lengthAdjust="spacingAndGlyphs">are</text>
<text x="686.47" y="273.00" textLength="70.61" lengthAdjust="spacingAndGlyphs">timeouts</text>
<text x="211.99" y="292.00" textLength="35.16" lengthAdjust="spacingAndGlyphs">-TCP</text>
<text x="251.59" y="292.00" textLength="43.90" lengthAdjust="spacingAndGlyphs">pings</text>
<text x="299.92" y="292.00" textLength="26.80" lengthAdjust="spacingAndGlyphs">are</text>
<text x="332.00" y="292.00" textLength="74.19" lengthAdjust="spacingAndGlyphs">once/min</text>
<text x="411.53" y="292.00" textLength="16.88" lengthAdjust="spacingAndGlyphs">[if</text>
<text x="432.85" y="292.00" textLength="99.51" lengthAdjust="spacingAndGlyphs">plotted][use</text>
<text x="536.79" y="292.00" textLength="56.97" lengthAdjust="spacingAndGlyphs">Ytcpoff</text>
<text x="599.02" y="292.00" textLength="21.95" lengthAdjust="spacingAndGlyphs">for</text>
<text x="626.23" y="292.00" textLength="77.97" lengthAdjust="spacingAndGlyphs">timeouts]</text>
<text x="130.65" y="321.00" textLength="53.83" lengthAdjust="spacingAndGlyphs">{/:Bold</text>
<text x="189.47" y="321.00" textLength="108.12" lengthAdjust="spacingAndGlyphs">ANOMALIES:}</text>
<text x="216.68" y="341.00" textLength="127.63" lengthAdjust="spacingAndGlyphs">(850)PingTarget</text>
<text x="350.52" y="341.00" textLength="11.55" lengthAdjust="spacingAndGlyphs">is</text>
<text x="368.30" y="341.00" textLength="54.93" lengthAdjust="spacingAndGlyphs">router!</text>
<text x="216.70" y="360.00" textLength="77.02" lengthAdjust="spacingAndGlyphs">(785)ipv6</text>
<text x="298.84" y="360.00" textLength="57.39" lengthAdjust="spacingAndGlyphs">failure!</text>
<text x="216.69" y="379.00" textLength="140.85" lengthAdjust="spacingAndGlyphs">(500+)Hyperping</text>
<text x="361.93" y="379.00" textLength="74.13" lengthAdjust="spacingAndGlyphs">Timeouts</text>
<text x="442.18" y="379.00" textLength="35.82" lengthAdjust="spacingAndGlyphs">----&gt;</text>
<text x="216.69" y="398.00" textLength="92.68" lengthAdjust="spacingAndGlyphs">(1000)Near</text>
<text x="314.66" y="398.00" textLength="38.88" lengthAdjust="spacingAndGlyphs">ICMP</text>
<text x="357.93" y="398.00" textLength="66.69" lengthAdjust="spacingAndGlyphs">Timeout</text>
<text x="429.89" y="398.00" textLength="49.71" lengthAdjust="spacingAndGlyphs">spikes</text>
<text x="216.68" y="418.00" textLength="77.00" lengthAdjust="spacingAndGlyphs">(550)Ping</text>
<text x="299.90" y="418.00" textLength="50.01" lengthAdjust="spacingAndGlyphs">Target</text>
<text x="355.24" y="418.00" textLength="70.09" lengthAdjust="spacingAndGlyphs">Changes</text>
<text x="430.70" y="418.00" textLength="30.32" lengthAdjust="spacingAndGlyphs">---&gt;</text>
<text x="216.69" y="437.00" textLength="110.07" lengthAdjust="spacingAndGlyphs">(450)OFFLINE</text>
<text x="332.81" y="437.00" textLength="47.46" lengthAdjust="spacingAndGlyphs">STATE</text>
<text x="385.46" y="437.00" textLength="42.21" lengthAdjust="spacingAndGlyphs">-----&gt;</text>
<text x="216.69" y="456.00" textLength="204.47" lengthAdjust="spacingAndGlyphs">(400)Reboot/powercycle?</text>
<text x="427.30" y="456.00" textLength="35.99" lengthAdjust="spacingAndGlyphs">----&gt;</text>
<text x="216.69" y="476.00" textLength="85.16" lengthAdjust="spacingAndGlyphs">(320)Deep</text>
<text x="307.12" y="476.00" textLength="40.52" lengthAdjust="spacingAndGlyphs">ICMP</text>
<text x="352.02" y="476.00" textLength="74.21" lengthAdjust="spacingAndGlyphs">Timeouts</text>
<text x="432.36" y="476.00" textLength="35.85" lengthAdjust="spacingAndGlyphs">----&gt;</text>
<text x="216.69" y="495.00" textLength="73.67" lengthAdjust="spacingAndGlyphs">(220)TCP</text>
<text x="295.60" y="495.00" textLength="34.05" lengthAdjust="spacingAndGlyphs">ping</text>
<text x="334.02" y="495.00" textLength="74.72" lengthAdjust="spacingAndGlyphs">Timeouts</text>
<text x="414.84" y="495.00" textLength="41.62" lengthAdjust="spacingAndGlyphs">-----&gt;</text>
<text x="1063.75" y="76.00" textLength="130.58" lengthAdjust="spacingAndGlyphs">"Ypingresult.txt"</text>
<text x="1199.52" y="76.00" textLength="43.93" lengthAdjust="spacingAndGlyphs">using</text>
<text x="1248.65" y="76.00" textLength="25.32" lengthAdjust="spacingAndGlyphs">1:2</text>
<text x="1044.00" y="95.00" textLength="150.49" lengthAdjust="spacingAndGlyphs">"YTimetcpping.txt"</text>
<text x="1200.44" y="95.00" textLength="42.51" lengthAdjust="spacingAndGlyphs">using</text>
<text x="1248.90" y="95.00" textLength="24.97" lengthAdjust="spacingAndGlyphs">1:2</text>
<text x="996.33" y="114.00" textLength="198.45" lengthAdjust="spacingAndGlyphs">"YCustPingSiteTimes.txt"</text>
<text x="1200.85" y="114.00" textLength="43.19" lengthAdjust="spacingAndGlyphs">using</text>
<text x="1250.10" y="114.00" textLength="23.65" lengthAdjust="spacingAndGlyphs">1:2</text>
<text x="1049.93" y="133.00" textLength="144.23" lengthAdjust="spacingAndGlyphs">"Yofflineresult.txt"</text>
<text x="1200.25" y="133.00" textLength="42.45" lengthAdjust="spacingAndGlyphs">using</text>
<text x="1248.80" y="133.00" textLength="25.43" lengthAdjust="spacingAndGlyphs">1:2</text>
<text x="1038.75" y="152.00" textLength="155.71" lengthAdjust="spacingAndGlyphs">"Ytcpoff_record.txt"</text>
<text x="1199.64" y="152.00" textLength="43.85" lengthAdjust="spacingAndGlyphs">using</text>
<text x="1248.68" y="152.00" textLength="25.28" lengthAdjust="spacingAndGlyphs">1:2</text>
<text x="1077.94" y="171.00" textLength="116.85" lengthAdjust="spacingAndGlyphs">"Ycurltime.txt"</text>
<text x="1200.77" y="171.00" textLength="43.54" lengthAdjust="spacingAndGlyphs">using</text>
<text x="1250.29" y="171.00" textLength="23.37" lengthAdjust="spacingAndGlyphs">1:2</text>
<text x="1049.00" y="190.00" textLength="145.95" lengthAdjust="spacingAndGlyphs">"Ycurldnstime.txt"</text>
<text x="1200.90" y="190.00" textLength="42.50" lengthAdjust="spacingAndGlyphs">using</text>
<text x="1248.50" y="190.00" textLength="24.99" lengthAdjust="spacingAndGlyphs">1:2</text>
<text x="1009.00" y="209.00" textLength="185.70" lengthAdjust="spacingAndGlyphs">"YCustPingTimeout.txt"</text>
<text x="1201.49" y="209.00" textLength="41.63" lengthAdjust="spacingAndGlyphs">using</text>
<text x="1249.07" y="209.00" textLength="24.98" lengthAdjust="spacingAndGlyphs">1:2</text>
<text x="1028.75" y="228.00" textLength="165.93" lengthAdjust="spacingAndGlyphs">"Ypingtargetchange"</text>
<text x="1200.72" y="228.00" textLength="42.13" lengthAdjust="spacingAndGlyphs">using</text>
<text x="1248.88" y="228.00" textLength="25.25" lengthAdjust="spacingAndGlyphs">1:2</text>
<text x="1041.33" y="247.00" textLength="152.70" lengthAdjust="spacingAndGlyphs">"YHPpingresult.txt"</text>
<text x="1200.97" y="247.00" textLength="41.63" lengthAdjust="spacingAndGlyphs">using</text>
<text x="1248.70" y="247.00" textLength="25.45" lengthAdjust="spacingAndGlyphs">1:2</text>
<text x="1022.87" y="266.00" textLength="171.40" lengthAdjust="spacingAndGlyphs">"YpingtargetISrouter"</text>
<text x="1200.37" y="266.00" textLength="42.47" lengthAdjust="spacingAndGlyphs">using</text>
<text x="1248.93" y="266.00" textLength="25.44" lengthAdjust="spacingAndGlyphs">1:2</text>
<text x="1117.39" y="285.00" textLength="77.50" lengthAdjust="spacingAndGlyphs">"Ynoipv6"</text>
<text x="1200.87" y="285.00" textLength="43.52" lengthAdjust="spacingAndGlyphs">using</text>
<text x="1250.37" y="285.00" textLength="23.36" lengthAdjust="spacingAndGlyphs">1:2</text>
<text id="ylab" transform="translate(17.3,318.9) rotate(-90)" x="0" y="0" textLength="41.4" lengthAdjust="spacingAndGlyphs">msec</text></g>
<g><path d="M1288 72.5h57" stroke="#FF0000" stroke-width="1"/>
<path d="M1288 91.5h57" stroke="#00C000" stroke-width="1"/>
<path d="M1288 110.5h57" stroke="#0080FF" stroke-width="1"/></g>
<g><rect x="1310.50" y="123.40" width="12.00" height="12.00" fill="none" stroke="#C000FF" stroke-width="1.1"/>
<rect x="1310.00" y="142.00" width="13.00" height="13.00" fill="#00EEEE"/>
<circle cx="1316.50" cy="167.50" r="5.1" fill="none" stroke="#C04000" stroke-width="1.1"/>
<path d="M1316.50 172.50v1.4M1316.50 162.50v-1.4M1321.50 167.50h1.4M1311.50 167.50h-1.4" stroke="#C04000" stroke-width="1"/>
<circle cx="1316.50" cy="186.50" r="5.5" fill="#C8C800"/>
<path d="M1316.50 198.00L1324.70 209.70L1308.30 209.70Z" fill="none" stroke="#4169E1" stroke-width="1.05" stroke-linejoin="miter"/>
<path d="M1316.50 215.80L1324.90 228.80L1308.10 228.80Z" fill="#FFC020"/>
<path d="M1310.10 243.40h12.80M1316.50 237.00v12.80" stroke="#008040" stroke-width="1.1"/>
<path d="M1316.50 270.60L1324.60 258.20L1308.40 258.20Z" fill="none" stroke="#C080FF" stroke-width="1.05"/>
<path d="M1316.50 289.70L1324.60 277.30L1308.40 277.30Z" fill="none" stroke="#306080" stroke-width="1.05"/></g>
</svg></body></html>
